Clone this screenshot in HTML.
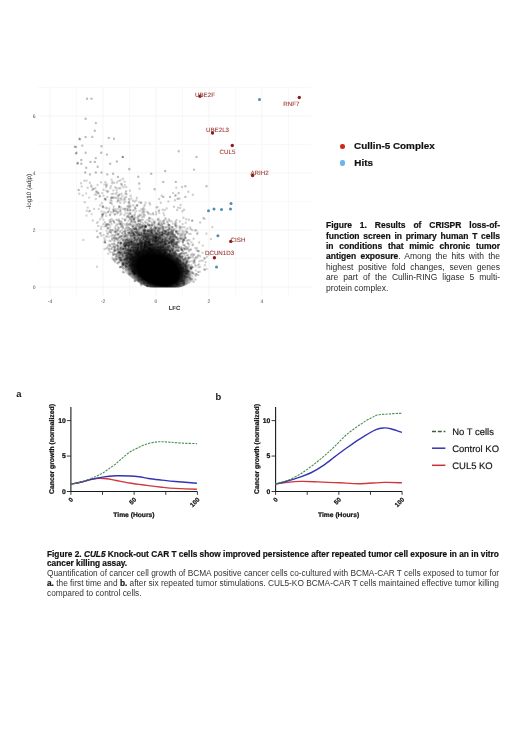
<!DOCTYPE html>
<html><head><meta charset="utf-8"><style>
html,body{margin:0;padding:0;background:#fff;}
body{width:520px;height:736px;position:relative;overflow:hidden;font-family:"Liberation Sans",sans-serif;filter:blur(0.45px);}
.abs{position:absolute;}
#cap1{left:326px;top:220.1px;width:174px;font-size:8.5px;line-height:10.4px;color:#2a2a2a;white-space:nowrap;}
.j{text-align:justify;text-align-last:justify;}
#cap1 b{color:#111;-webkit-text-stroke:0.2px #111;}
#cap2{left:47px;top:549.7px;width:456px;font-size:8.3px;line-height:9.8px;color:#333;}
#cap2 b{color:#111;-webkit-text-stroke:0.2px #111;}
.leg{font-size:9.9px;font-weight:bold;color:#111;-webkit-text-stroke:0.2px #111;}
</style></head><body>
<svg width="520" height="340" style="position:absolute;left:0;top:0" text-rendering="geometricPrecision">
<g><line x1="50.0" y1="86.5" x2="50.0" y2="296" stroke="#ececec" stroke-width="0.6"/>
<line x1="76.5" y1="86.5" x2="76.5" y2="296" stroke="#f5f5f5" stroke-width="0.6"/>
<line x1="103.0" y1="86.5" x2="103.0" y2="296" stroke="#ececec" stroke-width="0.6"/>
<line x1="129.5" y1="86.5" x2="129.5" y2="296" stroke="#f5f5f5" stroke-width="0.6"/>
<line x1="156.0" y1="86.5" x2="156.0" y2="296" stroke="#ececec" stroke-width="0.6"/>
<line x1="182.5" y1="86.5" x2="182.5" y2="296" stroke="#f5f5f5" stroke-width="0.6"/>
<line x1="209.0" y1="86.5" x2="209.0" y2="296" stroke="#ececec" stroke-width="0.6"/>
<line x1="235.5" y1="86.5" x2="235.5" y2="296" stroke="#f5f5f5" stroke-width="0.6"/>
<line x1="262.0" y1="86.5" x2="262.0" y2="296" stroke="#ececec" stroke-width="0.6"/>
<line x1="288.5" y1="86.5" x2="288.5" y2="296" stroke="#f5f5f5" stroke-width="0.6"/>
<line x1="38" y1="287.0" x2="311.5" y2="287.0" stroke="#ececec" stroke-width="0.6"/>
<line x1="38" y1="258.5" x2="311.5" y2="258.5" stroke="#f5f5f5" stroke-width="0.6"/>
<line x1="38" y1="230.0" x2="311.5" y2="230.0" stroke="#ececec" stroke-width="0.6"/>
<line x1="38" y1="201.5" x2="311.5" y2="201.5" stroke="#f5f5f5" stroke-width="0.6"/>
<line x1="38" y1="173.0" x2="311.5" y2="173.0" stroke="#ececec" stroke-width="0.6"/>
<line x1="38" y1="144.5" x2="311.5" y2="144.5" stroke="#f5f5f5" stroke-width="0.6"/>
<line x1="38" y1="116.0" x2="311.5" y2="116.0" stroke="#ececec" stroke-width="0.6"/>
<line x1="38" y1="87.5" x2="311.5" y2="87.5" stroke="#f5f5f5" stroke-width="0.6"/></g>
<defs><radialGradient id="rg1"><stop offset="0.58" stop-color="#000"/><stop offset="0.72" stop-color="#000" stop-opacity="0.75"/><stop offset="0.87" stop-color="#000" stop-opacity="0.3"/><stop offset="1" stop-color="#000" stop-opacity="0"/></radialGradient><radialGradient id="rg2"><stop offset="0" stop-color="#000" stop-opacity="0.45"/><stop offset="0.5" stop-color="#000" stop-opacity="0.25"/><stop offset="1" stop-color="#000" stop-opacity="0"/></radialGradient><filter id="bl" x="-5%" y="-5%" width="110%" height="110%"><feGaussianBlur stdDeviation="0.5"/></filter><clipPath id="cp"><polygon points="30,80 320,80 320.0,57.3 318.0,63.2 316.0,69.1 314.0,74.8 312.0,80.5 310.0,86.1 308.0,91.6 306.0,97.1 304.0,102.5 302.0,107.8 300.0,113.0 298.0,118.1 296.0,123.2 294.0,128.2 292.0,133.1 290.0,138.0 288.0,142.7 286.0,147.4 284.0,152.1 282.0,156.6 280.0,161.1 278.0,165.5 276.0,169.8 274.0,174.0 272.0,178.2 270.0,182.2 268.0,186.3 266.0,190.2 264.0,194.0 262.0,197.8 260.0,201.5 258.0,205.2 256.0,208.7 254.0,212.2 252.0,215.6 250.0,218.9 248.0,222.2 246.0,225.3 244.0,228.4 242.0,231.5 240.0,234.4 238.0,237.3 236.0,240.1 234.0,242.8 232.0,245.4 230.0,248.0 228.0,250.5 226.0,252.9 224.0,255.2 222.0,257.5 220.0,259.7 218.0,261.8 216.0,263.8 214.0,265.8 212.0,267.7 210.0,269.5 208.0,271.2 206.0,272.8 204.0,274.4 202.0,275.9 200.0,277.3 198.0,278.7 196.0,280.0 194.0,281.2 192.0,282.3 190.0,283.3 188.0,284.3 186.0,285.2 184.0,286.0 182.0,286.7 180.0,287.4 178.0,288.0 176.0,288.5 174.0,289.0 172.0,289.3 170.0,289.6 168.0,289.8 166.0,289.9 164.0,290.0 162.0,290.0 160.0,289.9 158.0,289.6 156.0,289.3 154.0,288.9 152.0,288.4 150.0,287.8 148.0,287.2 146.0,286.4 144.0,285.5 142.0,284.5 140.0,283.5 138.0,282.3 136.0,281.1 134.0,279.7 132.0,278.3 130.0,276.8 128.0,275.1 126.0,273.4 124.0,271.6 122.0,269.7 120.0,267.7 118.0,265.6 116.0,263.4 114.0,261.1 112.0,258.7 110.0,256.2 108.0,253.7 106.0,251.0 104.0,248.2 102.0,245.4 100.0,242.4 98.0,239.4 96.0,236.2 94.0,233.0 92.0,229.7 90.0,226.3 88.0,222.7 86.0,219.1 84.0,215.4 82.0,211.6 80.0,207.7 78.0,203.7 76.0,199.7 74.0,195.5 72.0,191.2 70.0,186.8 68.0,182.4 66.0,177.8 64.0,173.2 62.0,168.4 60.0,163.6 58.0,158.7 56.0,153.6 54.0,148.5 52.0,143.3 50.0,138.0 48.0,132.6 46.0,127.1 44.0,121.5 42.0,115.8 40.0,110.0 38.0,104.1 36.0,98.2 34.0,92.1 32.0,86.0 30.0,79.7"/></clipPath><clipPath id="cr"><rect x="30" y="80" width="290" height="207.6"/></clipPath></defs>
<g filter="url(#bl)" clip-path="url(#cr)"><g clip-path="url(#cp)"><ellipse cx="152" cy="248" rx="30" ry="30" fill="url(#rg2)" opacity="0.5"/><ellipse cx="158" cy="270" rx="38" ry="25" transform="rotate(20 158 270)" fill="url(#rg1)"/></g>
<g fill="none" stroke="#000" stroke-width="2.4" stroke-linecap="round">
<path d="M130.1 258.7h0M160.9 270.9h0M148.5 262.4h0M135.4 257.1h0M171.8 268.0h0M160.9 249.6h0M161.0 269.0h0M157.9 259.6h0M161.5 282.8h0M157.5 270.4h0M128.5 242.2h0M125.5 242.6h0M157.9 265.4h0M152.8 255.5h0M157.3 269.9h0M157.5 250.5h0M157.0 263.6h0M135.8 269.1h0M122.8 248.9h0M155.5 283.7h0M148.8 246.6h0M167.8 282.4h0M164.9 275.9h0M110.4 252.1h0M191.2 268.5h0M171.0 270.4h0M164.0 258.5h0M167.8 272.1h0M134.4 267.9h0M158.3 271.9h0M141.1 259.6h0M168.0 259.2h0M151.3 283.0h0M155.5 269.4h0M141.7 249.2h0M171.9 274.5h0M181.7 257.3h0M170.1 266.3h0M140.8 270.7h0M159.1 261.4h0M142.4 275.6h0M167.4 259.3h0M150.3 265.3h0M145.1 252.5h0M153.1 271.7h0M131.1 255.6h0M158.6 260.6h0M131.6 267.0h0M168.5 271.9h0M128.8 261.5h0M174.3 281.8h0M149.1 280.3h0M147.7 253.5h0M162.9 267.3h0M151.6 266.6h0M153.4 262.0h0M148.4 244.0h0M172.8 268.2h0M158.5 251.7h0M156.0 275.8h0M131.4 254.4h0M147.6 260.6h0M119.3 257.1h0M172.5 265.9h0M182.6 271.5h0M164.0 260.2h0M141.5 273.6h0M135.4 251.8h0M158.6 273.0h0M139.8 254.8h0M152.0 254.7h0M168.2 282.1h0M157.6 263.2h0M177.9 265.7h0M144.4 249.9h0M145.0 265.4h0M156.0 273.4h0M151.5 261.7h0M153.9 272.7h0M148.6 256.5h0M137.4 263.7h0M147.9 275.4h0M158.1 279.1h0M173.3 271.1h0M181.6 265.3h0M167.9 255.3h0M146.5 264.8h0M134.6 274.2h0M156.7 254.8h0M157.6 265.3h0M131.0 242.4h0M160.6 255.6h0M170.2 278.7h0M132.6 256.9h0M182.2 280.9h0M179.3 265.0h0M166.8 264.5h0M171.4 271.9h0M174.2 273.6h0M161.7 278.2h0M152.8 256.0h0M169.2 272.0h0M187.0 271.0h0M190.7 279.5h0M135.5 270.9h0M150.4 244.7h0M156.1 264.4h0M138.7 257.7h0M185.2 275.5h0M144.2 255.5h0M128.9 261.7h0M146.9 265.6h0" stroke-opacity="0.22"/>
<path d="M146.5 271.5h0M157.8 272.8h0M153.3 267.4h0M159.1 270.5h0M138.2 255.5h0M149.3 282.2h0M150.1 264.1h0M152.4 263.5h0M165.8 280.1h0M135.0 269.0h0M146.8 254.6h0M181.6 267.7h0M149.4 258.8h0M134.6 253.1h0M145.4 266.4h0M156.2 270.5h0M142.5 247.6h0M160.8 263.4h0M177.4 279.1h0M137.8 249.9h0M155.0 254.8h0M138.2 265.5h0M150.5 255.2h0M140.8 246.3h0M186.3 273.5h0M157.6 261.3h0M160.4 260.5h0M173.4 261.9h0M154.4 266.9h0M192.1 279.3h0M159.5 267.5h0M176.0 262.1h0M141.6 267.6h0M187.1 255.4h0M126.4 250.5h0M155.4 265.7h0M154.1 282.6h0M178.9 268.2h0M149.8 263.1h0M164.6 279.6h0M155.4 271.1h0M143.4 258.7h0M128.5 249.0h0M138.1 263.5h0M140.5 262.0h0M185.7 271.6h0M155.1 257.3h0M158.7 263.9h0M143.9 263.6h0M151.6 269.3h0M170.6 265.7h0M109.0 248.6h0M164.8 283.2h0M142.8 257.3h0M159.2 274.1h0M167.1 278.4h0M128.7 254.8h0M131.4 244.9h0M133.0 266.6h0M155.0 263.9h0M187.9 271.6h0M159.0 284.2h0M165.8 281.8h0M160.4 264.8h0M153.9 264.3h0M128.8 251.1h0M155.1 249.5h0M166.5 256.0h0M187.0 270.0h0M149.7 254.6h0M137.2 250.8h0M153.6 249.8h0M132.6 263.4h0M172.1 268.2h0M174.1 267.3h0M153.9 272.1h0M148.6 242.2h0M136.4 252.9h0M181.3 270.3h0M145.5 258.1h0M121.5 246.3h0M148.8 274.8h0M157.9 259.2h0M178.9 274.5h0M142.3 261.3h0M120.2 258.2h0M161.4 259.7h0M156.7 270.7h0M166.0 278.1h0M143.8 238.7h0M155.9 285.3h0M164.8 268.9h0M152.3 258.9h0M150.9 278.1h0M183.9 283.8h0M159.7 260.4h0M177.7 264.5h0M144.9 268.6h0M157.7 280.3h0M167.3 281.2h0M119.0 252.3h0M157.0 258.3h0M140.7 270.5h0M133.0 265.3h0M171.7 261.4h0M160.0 283.0h0M154.8 259.7h0M143.6 267.7h0M121.0 260.5h0M155.8 269.8h0M151.0 260.2h0M146.1 255.5h0M142.3 256.9h0M153.1 259.8h0" stroke-opacity="0.22"/>
<path d="M158.6 272.2h0M154.5 269.9h0M159.6 262.7h0M182.0 273.6h0M159.8 251.9h0M135.3 254.9h0M144.7 260.4h0M156.9 242.1h0M134.2 240.9h0M157.7 247.4h0M162.2 254.0h0M170.4 279.6h0M161.4 254.3h0M147.9 255.0h0M169.2 283.2h0M160.7 262.1h0M154.2 256.3h0M156.7 268.2h0M146.1 247.6h0M140.2 249.8h0M182.6 269.4h0M160.2 255.2h0M141.8 264.0h0M148.8 277.4h0M173.9 272.5h0M130.6 250.3h0M138.6 257.9h0M151.0 267.6h0M144.6 255.3h0M145.8 272.7h0M145.6 257.6h0M136.7 255.9h0M161.6 261.0h0M185.4 277.0h0M154.9 264.7h0M169.0 271.7h0M120.0 266.9h0M143.9 250.6h0M156.2 269.9h0M162.3 262.5h0M143.7 270.2h0M168.1 259.5h0M144.6 265.2h0M157.3 274.0h0M160.5 260.7h0M152.1 277.2h0M147.7 252.0h0M159.9 280.2h0M170.6 276.2h0M160.0 262.9h0M158.3 278.3h0M161.1 247.2h0M148.5 260.1h0M154.9 258.3h0M151.9 275.2h0M160.7 253.0h0M157.6 279.4h0M150.3 280.8h0M134.0 269.7h0M155.1 246.6h0M134.5 250.0h0M141.5 268.8h0M148.6 256.3h0M142.6 263.0h0M141.9 279.3h0M134.8 273.4h0M165.5 276.6h0M171.8 273.0h0M158.6 271.9h0M120.3 252.7h0M153.4 256.4h0M161.7 262.0h0M177.4 263.7h0M174.0 263.8h0M117.9 252.1h0M175.0 278.5h0M142.9 260.0h0M126.3 244.8h0M156.6 275.6h0M153.8 260.6h0M152.3 249.4h0M158.5 272.5h0M154.7 261.5h0M134.7 281.1h0M133.8 259.5h0M153.5 271.7h0M146.9 256.0h0M146.6 267.5h0M151.2 260.5h0M165.3 262.5h0M156.2 281.0h0M155.1 245.3h0M170.8 270.5h0M137.5 244.2h0M140.1 264.3h0M145.5 263.0h0M166.3 252.9h0M132.2 263.9h0M129.8 245.8h0M128.7 257.1h0M168.8 260.9h0M166.2 264.6h0M146.6 249.0h0M181.7 275.8h0M160.8 266.7h0M186.3 273.7h0M183.7 280.3h0M191.8 267.8h0M130.4 260.1h0M165.2 273.4h0M147.1 245.7h0M154.9 269.8h0M173.7 272.5h0M143.2 259.0h0" stroke-opacity="0.22"/>
<path d="M160.2 266.2h0M149.2 277.5h0M137.8 266.7h0M185.0 259.4h0M155.6 271.3h0M173.5 274.6h0M141.4 276.1h0M151.9 282.6h0M161.3 264.6h0M181.6 274.3h0M159.0 248.2h0M150.2 269.0h0M144.3 268.7h0M148.6 279.0h0M147.5 252.6h0M164.7 260.4h0M140.6 261.4h0M151.5 267.2h0M145.4 271.5h0M165.1 266.3h0M153.7 275.0h0M155.2 249.9h0M171.3 274.6h0M157.1 269.1h0M153.4 266.7h0M158.1 276.0h0M160.9 258.6h0M159.6 266.8h0M163.9 263.1h0M172.6 248.4h0M150.1 272.9h0M164.3 253.1h0M139.4 280.3h0M154.3 260.8h0M195.6 275.8h0M157.6 277.8h0M155.7 279.9h0M129.8 253.4h0M134.3 272.1h0M178.0 263.1h0M132.5 238.8h0M152.7 253.0h0M143.7 265.7h0M149.2 245.5h0M148.3 268.7h0M134.1 251.6h0M183.5 267.0h0M140.2 262.1h0M168.9 270.3h0M155.0 259.6h0M150.4 269.1h0M161.9 246.0h0M150.9 253.6h0M143.2 278.8h0M147.6 279.8h0M124.5 252.1h0M167.4 277.3h0M158.7 281.6h0M170.6 252.0h0M133.8 258.6h0M158.5 265.3h0M174.2 277.1h0M146.2 271.7h0M158.8 265.1h0M144.8 274.1h0M145.8 244.3h0M153.3 276.3h0M159.9 270.4h0M148.0 265.3h0M157.3 266.5h0M154.0 266.3h0M158.1 268.5h0M123.1 263.3h0M159.8 269.7h0M151.5 270.5h0M152.0 265.1h0M151.0 248.6h0M134.8 267.1h0M147.8 259.2h0M161.0 269.0h0M155.2 271.4h0M169.3 260.7h0M151.7 273.6h0M164.8 263.9h0M184.7 264.6h0M138.4 269.2h0M162.6 258.1h0M171.7 278.3h0M186.6 262.6h0M149.2 266.1h0M143.1 245.7h0M176.6 284.6h0M165.9 263.2h0M169.4 243.2h0M162.2 267.4h0M153.1 268.5h0M173.2 264.2h0M168.6 271.1h0M176.7 257.5h0M184.9 265.9h0M159.6 269.7h0M138.1 269.4h0M181.7 253.1h0M176.7 258.6h0M142.9 259.7h0" stroke-opacity="0.22"/>
<path d="M139.2 251.0h0M127.5 250.7h0M157.6 266.7h0M139.5 270.6h0M161.9 255.7h0M164.5 260.3h0M174.8 263.0h0M139.5 276.0h0M157.0 259.4h0M180.0 268.8h0M167.4 258.1h0M142.4 255.4h0M179.4 266.7h0M163.7 260.6h0M152.1 254.8h0M162.2 275.0h0M174.9 287.0h0M156.8 270.7h0M152.8 255.5h0M170.9 281.2h0M141.3 248.6h0M176.1 253.2h0M124.5 263.1h0M124.2 265.5h0M128.7 262.2h0M139.9 275.0h0M150.8 276.3h0M159.2 279.6h0M143.7 272.8h0M146.9 276.6h0M150.5 257.5h0M142.2 255.2h0M130.2 266.0h0M137.2 269.4h0M142.0 263.5h0M144.1 274.2h0M150.5 270.1h0M145.5 264.1h0M173.9 270.0h0M154.9 267.6h0M174.2 263.4h0M137.8 243.8h0M151.6 250.5h0M181.1 280.9h0M151.3 258.0h0M157.9 278.1h0M173.9 276.3h0M160.8 275.5h0M189.4 277.5h0M170.0 282.3h0M156.3 279.7h0M180.4 267.8h0M141.3 273.2h0M139.7 265.8h0M155.7 257.8h0M198.2 275.1h0M176.3 282.9h0M144.9 272.5h0M160.0 279.4h0M144.5 269.3h0M143.7 282.9h0M162.5 256.1h0M164.9 284.1h0M156.5 268.1h0M150.0 271.5h0M143.6 249.6h0M154.4 280.1h0M148.2 259.2h0M144.3 256.3h0M159.1 262.1h0M138.7 263.6h0M142.3 250.8h0M144.1 258.1h0M176.7 270.5h0M153.6 273.0h0M160.7 276.3h0M175.7 277.5h0M178.4 277.8h0M140.4 256.4h0M163.2 272.7h0M169.6 254.2h0M131.4 254.6h0M149.7 274.1h0M156.5 254.9h0M151.0 268.4h0M174.1 260.2h0M170.1 268.6h0M169.2 280.8h0M164.3 275.7h0M143.8 255.9h0M145.1 266.5h0M171.4 256.3h0M165.8 283.8h0M144.6 273.9h0M144.7 264.0h0M186.6 266.2h0M139.3 260.4h0M146.6 256.1h0M170.5 264.6h0M162.2 257.3h0M162.3 253.5h0M145.4 270.4h0M177.1 271.9h0M156.6 260.4h0M186.2 267.3h0M170.9 269.5h0M182.9 268.6h0M184.6 265.5h0M172.2 268.1h0M114.7 250.1h0M143.9 267.3h0M130.6 259.7h0M145.0 258.1h0M154.7 278.0h0M135.9 244.8h0M177.4 276.3h0M158.5 277.9h0M141.6 258.9h0M181.7 277.5h0M152.4 281.6h0M138.8 257.2h0M177.0 282.4h0M133.5 244.9h0M165.2 263.4h0M137.2 249.3h0M149.0 279.5h0M140.3 262.6h0M158.5 246.5h0M162.7 250.5h0" stroke-opacity="0.22"/>
<path d="M150.9 270.4h0M158.1 247.8h0M168.6 284.8h0M149.3 271.3h0M159.2 252.9h0M165.7 280.8h0M157.6 268.7h0M164.7 269.3h0M149.5 249.9h0M171.5 274.1h0M138.9 252.0h0M136.0 267.1h0M169.3 280.7h0M186.9 273.5h0M163.0 259.7h0M178.9 272.8h0M179.0 265.1h0M165.6 274.2h0M176.9 284.5h0M190.3 268.4h0M165.7 276.1h0M162.9 270.6h0M161.8 281.6h0M164.3 282.2h0M160.0 273.2h0M162.1 254.3h0M150.9 273.9h0M149.4 268.9h0M183.4 284.5h0M151.2 279.3h0M143.4 251.4h0M147.8 256.9h0M150.4 249.1h0M154.9 262.1h0M148.8 283.5h0M154.9 266.4h0M158.9 259.6h0M151.1 270.6h0M161.5 269.8h0M160.7 258.4h0M180.8 264.9h0M134.9 280.9h0M138.2 264.9h0M168.1 272.4h0M151.4 265.6h0M161.4 260.7h0M152.3 273.9h0M151.8 278.5h0M182.5 281.4h0M138.9 276.1h0M191.0 267.5h0M140.0 266.2h0M130.6 255.1h0M170.7 271.7h0M177.6 259.2h0M186.8 276.6h0M146.9 261.4h0M170.3 266.4h0M126.5 267.1h0M165.3 266.8h0M142.9 246.6h0M127.3 245.6h0M160.8 266.9h0M164.3 273.5h0M174.5 268.5h0M119.9 254.9h0M177.9 262.4h0M146.6 270.0h0M171.9 277.1h0M171.1 273.4h0M172.6 270.4h0M174.1 267.2h0M150.6 260.7h0M171.4 279.3h0M147.0 285.6h0M147.7 275.0h0M145.0 252.9h0M165.3 273.0h0M165.0 269.2h0M162.4 257.5h0M148.8 267.7h0M130.8 252.6h0M148.5 244.1h0M123.4 259.9h0M168.2 285.5h0M160.7 259.4h0M154.6 273.4h0M149.8 248.0h0M168.4 274.9h0M178.5 284.8h0M155.3 268.0h0M164.4 263.0h0M173.9 266.8h0M151.3 249.4h0M151.5 260.3h0M145.6 235.0h0M173.3 278.0h0M133.3 266.2h0M151.4 276.4h0M148.3 262.7h0M140.9 271.7h0M134.6 261.6h0" stroke-opacity="0.22"/>
<path d="M134.1 273.4h0M157.2 274.2h0M142.9 270.9h0M160.1 278.7h0M133.2 270.1h0M150.4 264.4h0M144.5 256.8h0M173.2 249.1h0M138.2 259.4h0M147.9 276.3h0M148.8 270.4h0M165.6 267.3h0M183.9 276.0h0M174.8 261.4h0M172.0 263.3h0M144.8 257.9h0M165.4 270.5h0M159.3 274.4h0M170.5 275.7h0M155.0 271.3h0M163.0 258.0h0M170.5 262.8h0M156.6 262.2h0M158.9 260.0h0M145.6 265.3h0M133.5 263.7h0M180.9 267.9h0M154.2 253.0h0M159.5 252.3h0M142.5 265.9h0M140.8 256.3h0M163.5 281.6h0M138.6 265.5h0M133.6 265.2h0M171.1 273.6h0M139.3 259.8h0M181.6 265.2h0M185.2 268.7h0M150.4 277.1h0M138.9 261.8h0M164.4 255.3h0M156.6 255.0h0M168.5 265.5h0M170.2 253.8h0M180.9 253.7h0M176.8 275.9h0M130.7 250.6h0M147.7 263.1h0M159.5 277.7h0M150.7 285.4h0M193.7 281.7h0M153.9 266.7h0M168.0 277.0h0M158.1 271.4h0M154.1 253.5h0M136.0 250.2h0M145.1 247.3h0M138.2 268.0h0M152.7 260.1h0M159.3 263.3h0M162.5 262.0h0M177.3 279.8h0M150.6 267.4h0M159.7 281.6h0M176.9 271.1h0M154.2 274.4h0M144.8 277.1h0M168.8 263.1h0M176.1 272.5h0M152.1 270.0h0M160.5 274.4h0M136.2 270.1h0M128.9 242.1h0M176.2 268.4h0M163.6 272.2h0M181.0 279.1h0M116.6 254.2h0M171.0 260.8h0M148.7 251.5h0M177.5 282.4h0M160.1 275.7h0M143.3 249.3h0M167.3 259.7h0M165.7 270.7h0M147.4 268.5h0M170.1 265.6h0M171.3 266.4h0M157.7 267.2h0M113.5 247.1h0M138.1 248.0h0M172.8 261.7h0M171.7 278.0h0M151.1 254.7h0M149.8 271.0h0M164.1 262.4h0M173.3 267.6h0M150.2 282.4h0M143.1 267.2h0M163.7 268.4h0M178.2 264.0h0M154.5 266.0h0M186.4 267.8h0M161.4 260.0h0M158.2 251.0h0" stroke-opacity="0.22"/>
<path d="M151.4 279.7h0M133.3 260.3h0M134.3 261.4h0M150.6 259.9h0M138.2 256.6h0M171.9 243.8h0M171.7 269.6h0M161.9 256.3h0M166.1 280.9h0M183.7 281.4h0M154.6 274.1h0M169.2 277.6h0M147.1 258.0h0M168.4 266.6h0M165.2 275.0h0M159.9 279.2h0M172.5 253.7h0M173.9 267.8h0M184.7 271.4h0M144.7 244.9h0M157.2 269.2h0M194.2 261.0h0M130.5 255.3h0M164.2 263.8h0M143.5 258.5h0M184.5 278.0h0M159.6 277.3h0M144.7 261.2h0M176.2 269.2h0M163.7 252.6h0M156.0 274.0h0M172.9 279.0h0M142.6 252.6h0M146.4 243.4h0M138.0 251.4h0M130.9 258.2h0M145.6 255.8h0M135.6 265.0h0M156.6 276.7h0M166.6 261.2h0M171.1 258.4h0M171.0 258.3h0M167.6 286.7h0M148.3 261.9h0M155.1 267.0h0M151.6 272.3h0M151.9 261.6h0M183.1 269.4h0M204.8 269.8h0M135.5 243.2h0M172.7 265.0h0M183.9 264.5h0M142.0 268.4h0M192.2 272.4h0M172.0 287.1h0M164.6 269.5h0M166.4 264.0h0M123.8 264.7h0M159.5 276.4h0M152.4 266.7h0M166.2 267.5h0M184.0 283.3h0M164.8 271.9h0M153.2 266.6h0M144.9 272.7h0M177.5 280.4h0M158.6 271.8h0M142.8 279.9h0M156.0 270.6h0M158.1 244.2h0M172.6 258.3h0M142.8 259.6h0M140.9 284.0h0M137.6 232.4h0M173.4 253.3h0M134.7 253.9h0M170.8 279.9h0M157.6 264.2h0M116.7 259.4h0M153.8 267.5h0M154.2 252.4h0M158.0 270.5h0M155.7 267.2h0M156.5 272.3h0M152.3 250.9h0M153.6 282.5h0M130.9 248.4h0M176.2 270.4h0M151.7 261.5h0M138.3 280.1h0M139.6 243.9h0M177.2 272.3h0M150.5 274.4h0M149.8 252.5h0M134.1 247.1h0M145.0 263.8h0M126.5 255.1h0M156.5 269.1h0M161.0 255.0h0" stroke-opacity="0.22"/>
<path d="M134.0 250.4h0M167.6 281.0h0M177.4 277.9h0M145.1 260.1h0M130.8 250.7h0M171.7 276.6h0M157.7 261.9h0M155.9 266.2h0M179.7 253.9h0M137.0 261.3h0M167.5 246.8h0M140.7 260.2h0M135.6 253.8h0M164.2 259.1h0M161.0 261.2h0M140.7 273.0h0M119.4 261.4h0M148.7 266.8h0M128.7 249.5h0M180.6 263.9h0M167.4 286.0h0M155.9 262.7h0M141.5 268.2h0M157.1 269.6h0M155.4 271.4h0M160.4 261.0h0M152.1 272.1h0M178.1 275.1h0M168.8 268.3h0M144.4 278.5h0M158.8 264.3h0M152.6 276.9h0M123.0 264.5h0M156.5 257.5h0M158.8 268.5h0M122.9 271.7h0M154.4 273.8h0M133.3 259.5h0M146.6 234.2h0M152.3 266.9h0M153.5 261.4h0M114.0 259.9h0M158.9 252.1h0M171.9 272.4h0M165.8 275.4h0M164.1 254.0h0M153.2 269.7h0M180.1 268.2h0M168.6 267.9h0M161.2 266.7h0M146.0 259.8h0M133.8 272.2h0M174.9 264.5h0M127.0 244.1h0M163.5 275.3h0M145.7 254.8h0M153.9 253.5h0M151.5 255.1h0M169.5 270.8h0M172.1 271.7h0M139.3 253.9h0M156.9 250.8h0M154.8 271.0h0M170.7 275.4h0M155.0 269.3h0M167.2 269.2h0M154.6 263.1h0M177.1 258.2h0M120.5 259.9h0M175.7 276.2h0M177.7 255.8h0M159.9 280.0h0M142.5 260.3h0M168.7 267.9h0M149.6 249.9h0M176.1 250.7h0M160.5 265.2h0M140.1 272.7h0M138.2 266.3h0M187.4 276.9h0M152.9 266.8h0M138.3 248.9h0M139.8 267.2h0M183.3 266.8h0M145.2 226.2h0M113.4 254.9h0M162.6 268.2h0M146.5 252.5h0M177.1 263.3h0M167.3 270.9h0M146.4 245.4h0M149.8 253.5h0M162.2 262.0h0M157.2 273.6h0M138.6 270.5h0M138.1 268.4h0M149.3 269.5h0M117.5 255.9h0M156.6 256.7h0M158.3 261.9h0M145.5 277.5h0M178.3 272.7h0M140.3 261.6h0M174.5 268.7h0M185.4 272.2h0M166.5 268.4h0M131.1 258.1h0M150.5 254.4h0M147.4 274.7h0M117.6 257.8h0M123.1 244.8h0M180.6 261.7h0M189.0 275.4h0M139.1 262.0h0" stroke-opacity="0.22"/>
<path d="M138.6 267.1h0M173.0 267.7h0M187.5 270.2h0M142.2 249.3h0M168.7 271.4h0M145.8 238.0h0M156.2 265.1h0M171.2 282.5h0M187.4 273.7h0M138.5 265.7h0M154.3 238.1h0M157.9 264.7h0M158.9 282.0h0M137.6 263.0h0M152.4 281.8h0M155.0 257.5h0M135.4 260.1h0M145.1 247.0h0M179.4 271.2h0M165.0 270.5h0M141.4 285.0h0M137.1 260.9h0M131.2 266.3h0M162.8 267.6h0M175.3 276.1h0M164.0 272.5h0M152.3 263.3h0M176.7 274.3h0M159.9 273.0h0M168.5 266.7h0M133.9 251.2h0M169.1 262.4h0M164.3 271.6h0M148.5 255.1h0M165.7 271.1h0M154.4 273.8h0M133.7 257.4h0M120.2 224.1h0M153.8 259.5h0M164.3 252.1h0M148.6 259.1h0M174.8 277.3h0M155.3 263.1h0M176.1 280.0h0M170.8 256.0h0M150.9 259.5h0M159.3 274.5h0M136.3 250.5h0M162.3 253.5h0M165.6 252.0h0M174.1 264.5h0M163.8 248.5h0M144.7 263.0h0M198.2 271.9h0M158.9 267.1h0M159.6 260.3h0M153.5 261.3h0M171.7 263.4h0M148.7 270.9h0M156.8 262.0h0M159.6 260.2h0M163.8 273.0h0M129.9 251.6h0M174.3 262.5h0M171.8 234.3h0M121.6 266.5h0M158.3 255.6h0M159.3 278.3h0M151.9 269.9h0M144.0 251.2h0M152.5 269.7h0M182.1 250.0h0M170.7 273.1h0M145.7 254.8h0M171.4 286.0h0M171.8 256.5h0M158.7 269.1h0M164.4 252.9h0M172.4 276.8h0M139.0 276.0h0M147.5 262.2h0M171.6 277.8h0M139.1 273.8h0M135.5 265.9h0M160.2 276.3h0M144.0 264.2h0M183.0 263.2h0M157.0 284.9h0M155.8 274.2h0M145.3 268.0h0M161.1 261.8h0M161.6 270.5h0M151.4 265.5h0M149.1 270.5h0M169.1 255.4h0M195.4 279.4h0M170.9 275.0h0M142.8 275.4h0M172.8 263.3h0M155.6 279.5h0M153.7 284.2h0M178.0 261.1h0M185.8 266.4h0M131.7 268.0h0M174.1 252.5h0M133.2 261.7h0M134.8 265.0h0M148.8 256.0h0M155.7 276.4h0M156.5 264.0h0M150.7 268.3h0M137.2 256.9h0M138.8 250.5h0M161.7 272.8h0M166.4 276.9h0M146.8 262.5h0M164.0 268.1h0" stroke-opacity="0.22"/>
<path d="M163.8 256.6h0M154.5 255.7h0M129.1 245.1h0M169.5 256.8h0M158.3 262.3h0M152.8 269.9h0M125.7 246.2h0M166.6 259.2h0M130.7 257.3h0M186.4 272.6h0M155.6 264.1h0M158.5 270.0h0M133.6 269.5h0M176.0 272.3h0M128.5 257.1h0M143.5 274.2h0M161.7 262.3h0M169.7 255.5h0M155.1 277.1h0M176.9 268.0h0M179.4 266.1h0M124.8 262.7h0M153.2 264.9h0M134.2 273.8h0M149.8 262.4h0M150.2 251.8h0M180.2 270.6h0M153.8 286.5h0M166.0 259.1h0M149.5 274.8h0M129.9 253.5h0M119.9 236.7h0M123.8 272.6h0M142.4 244.3h0M139.8 277.1h0M176.7 284.6h0M164.2 271.0h0M204.6 258.5h0M162.4 273.5h0M169.7 265.7h0M140.9 265.9h0M139.7 265.3h0M162.3 262.1h0M169.0 265.3h0M161.6 257.4h0M141.6 261.7h0M172.7 232.3h0M142.8 256.8h0M152.2 271.5h0M151.4 247.5h0M145.7 272.1h0M160.4 263.9h0M158.1 274.2h0M138.4 266.0h0M163.5 264.8h0M132.9 262.1h0M169.2 248.9h0M150.5 265.0h0M169.7 282.1h0M170.0 287.3h0M153.4 271.1h0M150.4 268.6h0M185.3 257.5h0M166.0 264.9h0M190.1 278.5h0M163.8 264.8h0M154.0 259.0h0M156.1 271.7h0M151.8 251.7h0M132.2 257.5h0M163.3 266.9h0M146.0 274.9h0M150.9 274.3h0M169.0 278.3h0M141.7 268.1h0M155.2 263.1h0M156.6 264.7h0M192.9 272.9h0M138.4 243.9h0M153.1 261.6h0M188.5 258.1h0M143.4 258.0h0M165.9 260.0h0M138.9 275.9h0M163.3 271.3h0M148.7 261.2h0M188.8 271.1h0M186.4 263.8h0M162.0 269.5h0M157.8 259.3h0M165.1 271.5h0M138.5 253.3h0M130.5 265.5h0M176.1 254.9h0M156.1 260.0h0M184.0 283.1h0M177.1 271.7h0M197.3 257.5h0M196.0 274.2h0M139.2 272.2h0M165.5 282.9h0M144.2 278.2h0M154.5 256.4h0M159.1 272.9h0M159.9 275.0h0M150.4 268.3h0M156.3 254.7h0" stroke-opacity="0.22"/>
<path d="M153.3 251.2h0M155.9 287.0h0M167.8 272.9h0M160.0 256.1h0M142.6 278.8h0M148.7 278.1h0M159.3 264.4h0M167.4 270.1h0M172.4 269.1h0M158.1 264.5h0M141.6 276.7h0M174.9 265.6h0M154.8 261.6h0M162.1 275.9h0M179.9 265.5h0M170.2 278.3h0M158.0 269.9h0M129.0 232.9h0M148.5 275.3h0M154.9 257.9h0M158.1 272.4h0M151.4 254.5h0M163.4 246.7h0M164.7 268.2h0M142.9 272.8h0M160.4 272.0h0M126.2 248.9h0M164.8 259.4h0M147.4 269.0h0M129.1 252.2h0M141.9 255.9h0M140.0 260.4h0M144.5 267.3h0M150.2 280.8h0M142.2 258.0h0M156.8 266.5h0M165.3 251.0h0M163.1 268.4h0M125.1 245.6h0M159.9 270.6h0M161.7 264.6h0M164.0 268.1h0M167.4 266.1h0M154.4 262.2h0M146.9 251.4h0M150.2 263.4h0M160.1 253.8h0M169.2 273.8h0M178.0 268.7h0M153.3 256.1h0M160.0 267.5h0M133.2 232.9h0M132.0 255.8h0M182.4 275.4h0M156.3 268.4h0M154.4 253.4h0M142.3 271.8h0M158.5 271.5h0M167.4 272.6h0M141.2 270.7h0M156.2 280.7h0M157.2 282.9h0M163.2 268.4h0M182.8 266.7h0M163.3 261.9h0M160.4 271.2h0M163.9 268.0h0M155.8 264.3h0M145.9 264.9h0M176.8 277.6h0M167.5 274.0h0M175.3 267.1h0M144.2 251.7h0M162.9 282.4h0M154.7 267.7h0M155.1 261.6h0M139.8 256.9h0M176.5 280.9h0M145.0 270.8h0M157.5 260.1h0M140.6 251.9h0M175.2 282.1h0M153.8 273.6h0M164.2 257.2h0M150.0 247.9h0M152.6 270.7h0M134.5 264.0h0M136.1 247.4h0M166.2 260.3h0M147.5 286.4h0M129.6 274.3h0M132.3 247.2h0M138.7 267.9h0M157.4 260.3h0M132.6 263.8h0M152.4 265.3h0M164.5 279.4h0M146.6 266.4h0M139.2 257.7h0M165.4 287.0h0M135.8 252.1h0M145.6 258.4h0M180.0 256.1h0M118.9 228.3h0M162.7 268.1h0M154.1 279.0h0M147.6 248.9h0M172.5 282.5h0" stroke-opacity="0.22"/>
<path d="M143.1 225.8h0M123.4 248.2h0M161.7 254.2h0M148.8 272.6h0M173.7 270.9h0M158.0 268.3h0M147.4 259.4h0M141.0 262.4h0M148.2 272.8h0M115.0 247.7h0M123.6 245.9h0M164.9 243.8h0M134.7 265.5h0M134.3 218.6h0M147.4 268.0h0M147.3 261.6h0M168.4 233.2h0M142.6 265.3h0M151.7 248.1h0M155.0 270.7h0M165.6 273.2h0M162.0 251.0h0M138.6 268.8h0M133.4 269.7h0M153.3 273.0h0M120.6 249.1h0M150.3 218.2h0M134.0 259.6h0M142.9 261.7h0M151.0 261.1h0M177.8 245.6h0M138.6 238.1h0M153.6 273.3h0M141.3 264.7h0M129.2 234.8h0M129.7 252.2h0M165.0 257.9h0M174.0 270.6h0M145.5 265.4h0M159.4 266.6h0M194.4 254.5h0M173.5 267.9h0M178.3 268.2h0M166.2 272.0h0M159.6 265.9h0M167.5 271.0h0M165.2 263.3h0M120.3 214.7h0M148.9 264.9h0M151.0 272.4h0M151.2 265.7h0M124.8 208.7h0M130.8 269.6h0M153.6 272.3h0M170.5 268.4h0M151.7 264.7h0M141.3 221.9h0M128.1 253.4h0M161.6 259.4h0M158.0 249.7h0M170.4 270.7h0M136.4 250.5h0M144.6 263.2h0M141.5 270.0h0M184.1 264.2h0M130.2 264.6h0M153.2 267.0h0M178.5 273.7h0M143.2 265.2h0M141.3 269.0h0M144.3 206.3h0M150.5 268.7h0M194.4 259.9h0M167.9 271.8h0M115.0 254.1h0M163.0 271.6h0M138.2 250.8h0M136.5 261.6h0M147.2 271.9h0M156.4 272.9h0M159.8 243.7h0M180.1 265.0h0M117.0 213.6h0M160.0 271.3h0M163.8 261.7h0M109.2 224.6h0M156.5 265.8h0M167.7 272.0h0M152.9 263.8h0M172.0 242.3h0M147.4 264.4h0M145.4 260.4h0M134.2 273.5h0M127.4 244.9h0M140.0 256.3h0M152.0 273.0h0M134.6 228.7h0M115.7 197.9h0M139.4 267.2h0M166.4 273.1h0M186.1 247.3h0M118.0 235.1h0M177.4 262.5h0M158.7 271.8h0M139.5 239.3h0M139.2 261.6h0M167.2 258.0h0M144.0 230.1h0M166.0 263.2h0M171.6 270.3h0M127.7 264.7h0M135.5 223.0h0M154.9 270.2h0M157.3 240.9h0M156.9 272.9h0M121.9 185.6h0M141.1 272.9h0M174.7 263.0h0M161.7 241.7h0M171.0 273.7h0M160.3 268.7h0M165.1 260.7h0M174.0 241.6h0M136.9 255.0h0M155.9 270.3h0M176.5 271.2h0M144.5 260.9h0M126.0 266.3h0M165.9 258.9h0M130.5 206.5h0M141.5 273.9h0M153.3 273.2h0M160.0 265.4h0M154.3 272.9h0M158.6 250.5h0M137.7 269.2h0M138.7 273.1h0M127.1 253.3h0M174.3 264.9h0M155.2 262.9h0M127.9 229.9h0M155.2 273.8h0M166.8 271.7h0M177.9 271.1h0M165.2 273.5h0M123.2 268.6h0M126.0 233.3h0M139.7 231.7h0M159.9 248.0h0M166.9 258.7h0M149.3 249.2h0M164.8 264.3h0M146.8 239.6h0M135.5 272.5h0M164.2 263.4h0M166.4 252.0h0M108.2 253.7h0M136.1 260.7h0M150.6 268.7h0M152.2 256.2h0M158.2 254.2h0M138.0 273.9h0M173.2 260.8h0M156.7 237.0h0M154.8 259.8h0M126.9 263.7h0M157.1 263.5h0M147.3 255.0h0M143.2 264.4h0M148.7 272.2h0M128.9 258.0h0M158.9 265.3h0M141.5 219.4h0M158.2 271.7h0M172.8 260.5h0M141.9 216.9h0M148.7 268.7h0M169.0 242.9h0M150.0 267.0h0M152.9 273.7h0M159.6 273.2h0M135.2 273.1h0M169.2 273.4h0M158.6 263.4h0M86.8 210.8h0M172.9 269.5h0M154.0 236.3h0M162.3 233.7h0M168.1 249.9h0M149.8 261.9h0M206.6 268.9h0M136.9 258.5h0M100.9 228.9h0M148.9 259.8h0M162.1 224.6h0M159.6 274.0h0M120.4 236.6h0M114.5 243.9h0M120.9 236.6h0M179.1 256.5h0M178.2 272.6h0M141.1 247.6h0M177.5 259.9h0M144.7 266.0h0M167.3 271.7h0M154.6 260.3h0M146.1 270.7h0M115.6 235.8h0M182.9 271.4h0M193.3 267.1h0M155.1 271.5h0M173.0 236.5h0M148.2 271.6h0M162.0 267.6h0M172.9 269.3h0M105.1 199.4h0M156.1 228.3h0M148.6 269.7h0M154.1 271.1h0M164.2 272.8h0M158.1 268.4h0M126.0 264.4h0M175.9 273.9h0M161.3 270.2h0M146.6 255.4h0M121.5 258.8h0M179.0 272.5h0M158.1 247.0h0M105.4 242.6h0M164.1 270.0h0M141.7 269.4h0M142.0 266.5h0M150.8 273.9h0M147.4 271.0h0M160.8 222.8h0M153.4 238.5h0M146.5 250.7h0M170.8 270.0h0M153.2 270.1h0M178.5 269.9h0M149.3 273.9h0M140.7 272.9h0M135.2 245.3h0M180.6 271.6h0M160.6 251.5h0M138.2 221.0h0M167.5 244.6h0M156.5 259.3h0M161.7 273.7h0M160.4 261.7h0M124.5 235.9h0M164.6 244.3h0M171.1 267.1h0M162.0 260.4h0M166.1 272.2h0M163.1 265.2h0M183.4 259.5h0M132.6 263.8h0M165.3 269.9h0M138.2 270.2h0M148.9 248.1h0M153.8 251.5h0M141.5 247.5h0M159.8 273.1h0M159.8 243.4h0M147.2 261.0h0M185.8 263.2h0M180.5 258.2h0M170.0 228.5h0M171.6 231.4h0M197.8 264.9h0M130.9 238.3h0M124.9 255.7h0M151.5 255.2h0M140.7 271.3h0M170.8 261.7h0M150.9 242.2h0M176.7 272.0h0M162.9 245.9h0M180.1 261.3h0M156.3 267.7h0M163.0 258.1h0M170.9 229.6h0M160.7 245.4h0M182.7 259.9h0M136.4 269.5h0M114.3 251.6h0M145.3 257.0h0M149.4 262.2h0M124.6 181.7h0M147.3 273.6h0M155.4 272.2h0M155.5 233.4h0M104.2 212.3h0M159.2 264.5h0M147.1 272.6h0M162.7 263.2h0M150.5 263.6h0M132.1 269.5h0M145.5 226.8h0M154.1 261.7h0M160.0 273.9h0M188.7 246.6h0M144.3 256.2h0M155.6 263.1h0M142.4 264.3h0M165.7 270.5h0M166.0 246.9h0M168.2 260.9h0M134.3 217.4h0M126.1 248.3h0M177.1 262.3h0M169.9 271.3h0M137.1 224.3h0M130.0 190.8h0M159.8 251.8h0M160.0 260.5h0M125.0 253.3h0M155.2 269.6h0M190.6 269.0h0" stroke-opacity="0.17"/>
<path d="M92.8 220.5h0M163.1 258.0h0M120.9 258.4h0M164.0 250.4h0M125.7 246.9h0M131.6 266.3h0M144.4 263.5h0M156.7 257.2h0M153.3 269.1h0M165.9 266.5h0M157.6 267.8h0M158.1 262.6h0M153.1 262.4h0M142.2 244.6h0M174.2 257.9h0M142.0 263.9h0M143.1 231.0h0M146.6 230.5h0M165.8 271.5h0M176.7 243.5h0M139.5 268.2h0M179.5 273.4h0M141.7 226.4h0M130.3 250.5h0M169.1 271.4h0M159.7 253.7h0M134.1 219.3h0M138.8 254.3h0M151.5 270.8h0M149.1 249.8h0M157.5 265.4h0M126.2 263.6h0M150.0 274.0h0M132.2 215.6h0M138.2 273.9h0M168.3 264.1h0M156.7 260.3h0M160.5 256.5h0M168.6 263.3h0M160.0 269.7h0M177.6 272.3h0M178.5 262.5h0M101.3 235.8h0M144.3 266.2h0M163.6 268.5h0M167.5 267.4h0M149.4 220.8h0M170.1 269.9h0M136.6 260.1h0M132.7 246.3h0M153.1 247.5h0M163.2 269.9h0M166.9 268.6h0M156.9 241.2h0M147.7 270.5h0M136.0 259.5h0M160.0 267.7h0M117.4 231.2h0M147.1 251.6h0M139.4 252.6h0M180.8 260.7h0M138.1 262.4h0M164.4 272.2h0M153.0 267.6h0M140.8 260.0h0M113.1 212.3h0M127.0 261.4h0M142.3 260.6h0M141.1 260.8h0M155.5 270.6h0M164.9 269.5h0M161.1 268.9h0M177.3 260.0h0M156.1 257.7h0M159.6 254.4h0M164.4 245.3h0M123.9 202.8h0M138.7 270.6h0M159.8 271.5h0M148.7 267.5h0M144.4 267.9h0M142.9 252.7h0M144.4 272.4h0M165.2 271.5h0M164.7 271.1h0M175.3 273.7h0M123.0 264.4h0M187.9 271.5h0M175.2 255.2h0M144.4 270.9h0M151.2 249.7h0M145.3 267.9h0M119.4 258.0h0M165.1 253.3h0M145.1 273.5h0M156.7 264.5h0M149.2 249.9h0M147.8 266.9h0M164.2 230.7h0M146.9 266.6h0M153.4 235.2h0M175.4 247.3h0M114.6 245.6h0M176.9 269.6h0M171.6 271.1h0M171.7 267.7h0M140.6 259.5h0M116.1 229.2h0M138.3 269.1h0M122.2 255.2h0M138.2 223.6h0M151.6 261.5h0M145.0 265.7h0M194.7 262.7h0M157.8 272.7h0M136.9 254.8h0M141.0 259.3h0M151.4 263.8h0M155.9 273.6h0M169.7 263.9h0M145.2 256.4h0M192.1 266.7h0M175.5 270.2h0M165.3 265.2h0M185.7 222.8h0M146.3 267.8h0M153.9 270.4h0M158.4 263.5h0M138.6 258.6h0M146.3 268.9h0M147.0 262.3h0M155.8 249.3h0M170.2 260.3h0M166.1 263.5h0M129.7 240.4h0M139.3 220.9h0M158.7 253.8h0M179.1 267.2h0M143.2 271.0h0M120.2 259.0h0M131.1 254.7h0M142.6 246.1h0M127.2 252.8h0M145.1 256.7h0M146.6 254.3h0M171.8 270.6h0M170.2 247.4h0M130.9 261.6h0M192.5 260.9h0M168.0 221.8h0M131.4 255.7h0M148.9 266.3h0M172.2 273.9h0M166.6 258.4h0M128.6 263.3h0M167.2 270.6h0M143.0 268.2h0M173.6 258.7h0M156.0 273.2h0M148.9 269.3h0M157.7 267.0h0M125.7 264.4h0M141.7 262.2h0M142.0 225.1h0M170.9 272.0h0M160.7 268.3h0M135.7 260.4h0M155.8 272.5h0M146.0 272.7h0M176.4 259.3h0M135.4 268.1h0M137.2 246.1h0M173.1 268.9h0M140.7 253.1h0M141.3 241.0h0M161.2 271.3h0M156.6 254.6h0M136.6 255.7h0M139.1 244.3h0M134.8 255.3h0M157.9 253.5h0M135.2 263.1h0M178.7 273.0h0M165.3 250.0h0M196.1 266.2h0M162.7 267.9h0M148.0 256.7h0M150.8 264.9h0M153.7 266.9h0M119.0 194.8h0M175.3 253.6h0M172.8 256.3h0M165.8 270.7h0M130.1 263.8h0M151.8 258.0h0M120.5 259.6h0M148.4 266.8h0M160.1 271.4h0M134.8 273.7h0M165.5 263.7h0M144.6 271.0h0M146.7 270.0h0M106.2 224.6h0M127.3 230.5h0M117.6 256.4h0M181.4 253.3h0M153.9 272.1h0M173.6 270.2h0M164.8 256.6h0M167.6 258.8h0M145.7 251.0h0M133.2 231.4h0M147.7 266.8h0M149.6 269.6h0M152.0 250.9h0M152.9 254.9h0M127.1 250.9h0M131.3 255.0h0M129.8 263.1h0M157.2 268.0h0M161.4 255.0h0M132.9 267.3h0M141.6 261.6h0M167.1 269.4h0M167.4 257.1h0M180.6 255.7h0M182.6 268.4h0M133.2 255.9h0M164.2 271.9h0M143.5 269.2h0M136.0 257.7h0M161.5 267.1h0M202.6 252.7h0M167.7 250.0h0M159.5 233.0h0M157.4 255.8h0M154.6 271.3h0M161.9 267.7h0M164.8 271.7h0M160.8 269.3h0M111.6 194.0h0M164.0 261.8h0M179.3 260.6h0M121.8 261.3h0M155.2 259.1h0M168.7 273.0h0M144.0 263.0h0M153.0 260.3h0M122.3 248.4h0M175.2 267.0h0M142.6 267.6h0M158.7 210.9h0M188.0 248.4h0M172.4 258.0h0M141.2 261.8h0M152.3 271.5h0M145.6 250.0h0M167.1 272.7h0M162.9 263.9h0M128.4 258.7h0M163.9 246.0h0M161.5 273.2h0M150.2 267.5h0M169.5 256.6h0M135.1 221.5h0M156.1 268.6h0M132.1 270.8h0M141.4 269.4h0M175.7 270.6h0M171.5 242.0h0M157.5 260.5h0M152.5 270.6h0M140.2 266.6h0M144.3 258.0h0M114.7 261.8h0M173.0 266.1h0M148.6 262.3h0M159.4 265.9h0M182.0 271.5h0M176.2 257.9h0M170.3 272.3h0M164.7 254.6h0M150.2 265.8h0M157.9 269.0h0M156.2 268.9h0M147.4 268.7h0M125.5 251.3h0M110.7 220.4h0M141.5 273.3h0M146.0 250.6h0M157.5 245.5h0M132.1 247.7h0M156.4 235.4h0M145.1 269.2h0M150.2 258.0h0M106.8 226.1h0M114.8 231.8h0M156.0 272.0h0" stroke-opacity="0.17"/>
<path d="M165.5 270.6h0M159.4 271.2h0M86.1 193.4h0M129.2 233.2h0M157.3 269.7h0M183.0 263.5h0M147.9 258.8h0M135.1 261.6h0M146.8 267.8h0M159.3 256.5h0M149.6 270.9h0M160.5 273.0h0M146.4 262.1h0M117.3 245.8h0M172.0 241.8h0M171.3 243.4h0M118.1 200.7h0M135.4 260.0h0M160.5 266.5h0M153.0 272.3h0M136.0 265.5h0M139.0 271.2h0M131.5 241.9h0M156.9 261.0h0M120.6 242.5h0M190.3 272.3h0M179.2 246.9h0M135.6 263.9h0M190.9 254.7h0M154.4 267.6h0M162.3 262.9h0M172.1 264.8h0M119.4 248.6h0M144.3 247.0h0M134.0 262.1h0M125.7 262.7h0M133.0 251.7h0M157.0 263.9h0M122.5 253.1h0M140.7 273.3h0M150.6 270.6h0M149.9 258.6h0M162.3 267.0h0M161.8 258.9h0M159.6 272.5h0M132.1 263.5h0M176.1 269.1h0M117.9 230.3h0M155.1 257.8h0M175.4 265.9h0M171.4 266.0h0M151.6 260.3h0M170.8 253.5h0M138.1 267.9h0M152.5 246.0h0M131.2 263.1h0M145.0 250.8h0M145.7 242.3h0M166.9 270.3h0M168.1 255.0h0M129.1 242.9h0M136.9 262.9h0M151.5 233.5h0M171.1 268.5h0M150.1 273.9h0M159.2 268.3h0M159.3 266.3h0M153.8 273.8h0M148.7 268.7h0M162.4 258.0h0M155.9 268.6h0M139.7 216.1h0M171.0 270.6h0M160.4 272.9h0M146.1 266.0h0M157.6 265.8h0M156.6 265.7h0M173.0 271.9h0M143.8 273.6h0M146.0 246.4h0M149.3 267.4h0M161.1 253.3h0M143.4 229.3h0M138.8 261.9h0M153.4 264.3h0M133.9 264.7h0M150.8 250.3h0M139.5 242.9h0M159.7 269.8h0M158.6 273.2h0M124.8 252.7h0M165.1 260.6h0M167.4 273.5h0M143.0 239.4h0M173.3 244.8h0M129.6 262.4h0M163.5 259.9h0M147.3 274.0h0M157.9 256.0h0M144.3 211.8h0M149.5 266.8h0M139.1 269.7h0M155.1 266.8h0M157.5 272.4h0M176.1 266.9h0M168.6 251.3h0M165.5 231.1h0M157.0 252.5h0M154.6 270.1h0M162.3 264.2h0M164.1 232.9h0M176.2 265.7h0M170.4 269.7h0M133.6 221.2h0M164.7 265.2h0M158.2 269.0h0M153.7 253.1h0M165.6 273.2h0M137.5 267.5h0M156.5 265.2h0M186.5 270.6h0M135.5 248.5h0M170.3 264.0h0M166.9 221.8h0M147.8 261.2h0M126.7 217.5h0M140.2 237.4h0M171.0 270.4h0M163.8 262.2h0M155.1 257.3h0M143.9 269.4h0M188.0 243.5h0M169.5 251.1h0M152.6 270.2h0M171.5 271.3h0M135.9 261.2h0M147.0 258.7h0M165.5 273.0h0M166.3 260.1h0M163.6 259.2h0M152.3 266.6h0M140.8 267.7h0M152.0 247.3h0M177.2 273.9h0M152.8 255.6h0M118.7 251.9h0M146.6 259.5h0M121.9 257.4h0M147.7 264.7h0M167.8 268.7h0M140.2 263.0h0M156.2 263.2h0M155.0 262.5h0M141.3 268.9h0M118.7 250.3h0M162.4 269.5h0M158.8 270.9h0M147.6 223.3h0M167.1 259.2h0M152.7 254.8h0M144.7 243.2h0M156.9 254.1h0M152.6 270.2h0M122.6 255.9h0M146.1 272.1h0M154.0 269.3h0M124.4 224.3h0M179.3 246.9h0M134.9 207.2h0M188.7 233.6h0M132.1 271.6h0M185.3 258.0h0M155.1 264.2h0M168.0 268.6h0M141.8 233.5h0M129.3 272.3h0M147.3 268.6h0M166.1 272.9h0M147.4 268.1h0M151.9 264.3h0M154.5 236.0h0M135.1 271.0h0M146.9 266.4h0M150.0 269.3h0M139.7 272.3h0M120.5 257.0h0M125.4 236.5h0M171.0 263.7h0M169.2 250.6h0M153.6 249.9h0M121.3 260.1h0M125.9 258.4h0M83.3 239.9h0M143.5 252.3h0M128.1 246.9h0M150.3 269.5h0M133.9 264.8h0M139.7 270.4h0M143.0 250.8h0M148.5 262.8h0M174.5 244.6h0M114.3 238.1h0M142.3 247.1h0M133.8 241.4h0M146.4 256.3h0M153.1 261.7h0M163.6 250.3h0M173.8 230.6h0M167.4 267.5h0M141.3 243.5h0M139.1 261.6h0M199.8 271.7h0M159.2 268.7h0M142.5 267.7h0M158.8 270.8h0M152.2 267.1h0M135.1 272.4h0M112.7 244.4h0M198.1 251.3h0M166.8 267.8h0M148.6 245.0h0M125.6 252.2h0M168.8 270.6h0M164.7 271.0h0M151.2 271.3h0M161.0 270.4h0M149.5 237.1h0M180.1 263.8h0M128.0 233.0h0M163.3 272.2h0M137.1 260.4h0M186.8 249.4h0M115.4 250.8h0M156.0 269.4h0M144.4 261.8h0M150.8 262.7h0M177.7 231.0h0M165.2 253.4h0M161.8 272.0h0M156.9 264.4h0M146.4 258.9h0M173.7 269.4h0M119.5 201.2h0M113.3 254.6h0M143.5 228.5h0M152.6 267.7h0M157.3 253.7h0M135.2 264.0h0M177.2 238.5h0M97.4 192.8h0M167.3 251.8h0M166.7 269.6h0M179.6 254.8h0M150.1 270.2h0M142.9 219.7h0M141.4 246.7h0M160.8 257.7h0M193.8 273.8h0M124.8 246.8h0M145.7 264.9h0M175.1 236.6h0M158.9 260.6h0M158.9 273.4h0M167.0 270.2h0M105.0 241.9h0M150.0 257.3h0M169.5 273.5h0M149.8 265.7h0M151.4 248.4h0M117.5 220.3h0M160.7 246.3h0M140.3 254.4h0M163.0 257.6h0M160.2 273.7h0M142.0 261.5h0M173.4 262.0h0M160.9 258.9h0M140.4 258.6h0M161.7 258.0h0M147.5 265.6h0M147.5 263.7h0M140.1 259.6h0M134.8 260.6h0M157.1 269.2h0M169.9 268.8h0" stroke-opacity="0.17"/>
<path d="M170.4 273.4h0M159.5 268.2h0M127.3 264.0h0M188.8 271.4h0M154.5 260.7h0M160.0 271.5h0M115.9 245.5h0M156.1 271.8h0M132.4 263.4h0M143.1 256.2h0M136.5 258.7h0M146.9 252.9h0M130.2 265.9h0M138.4 268.4h0M160.0 258.0h0M135.0 265.0h0M149.9 258.5h0M146.1 241.8h0M158.5 264.1h0M143.3 265.6h0M142.5 251.3h0M171.2 257.5h0M138.9 236.6h0M149.1 262.8h0M125.4 241.1h0M147.3 271.4h0M131.8 265.4h0M137.6 219.2h0M110.8 202.9h0M166.1 271.4h0M135.0 271.9h0M167.6 266.9h0M137.2 267.1h0M142.6 269.9h0M169.8 270.9h0M156.1 212.0h0M170.2 271.6h0M171.1 264.3h0M174.1 267.7h0M164.7 251.4h0M116.6 190.1h0M86.6 180.6h0M123.9 258.2h0M144.4 266.5h0M135.0 266.4h0M170.5 256.7h0M141.1 250.4h0M148.8 268.4h0M167.1 271.1h0M98.3 192.6h0M124.4 257.7h0M157.0 265.7h0M114.0 243.6h0M140.2 259.0h0M142.5 261.4h0M140.1 223.9h0M174.1 270.5h0M162.6 265.4h0M155.5 273.6h0M149.4 256.7h0M180.1 268.2h0M145.8 251.0h0M126.9 266.7h0M155.4 267.5h0M158.2 262.6h0M160.4 271.6h0M135.1 264.3h0M157.6 270.8h0M154.8 270.6h0M144.1 265.5h0M108.4 223.9h0M147.9 230.9h0M165.9 273.6h0M151.0 268.6h0M97.6 185.0h0M169.5 273.4h0M103.6 195.6h0M155.3 268.2h0M158.0 251.4h0M126.5 266.0h0M158.5 257.0h0M158.4 273.3h0M151.7 258.7h0M138.5 267.8h0M156.7 269.3h0M143.4 264.5h0M140.4 265.1h0M184.0 252.9h0M148.8 262.9h0M94.8 194.5h0M141.7 271.8h0M166.7 272.6h0M142.3 269.0h0M159.1 254.0h0M134.0 253.7h0M150.7 267.8h0M179.9 272.9h0M133.7 210.2h0M175.1 266.4h0M100.1 219.3h0M157.0 272.3h0M133.8 261.2h0M137.3 254.0h0M152.2 272.1h0M182.0 268.3h0M170.5 273.9h0M167.3 269.7h0M154.3 265.2h0M161.8 265.5h0M185.8 269.2h0M166.9 227.1h0M148.1 269.3h0M178.1 247.9h0M180.0 271.8h0M149.6 253.4h0M144.8 246.8h0M152.4 233.2h0M139.5 235.1h0M152.9 258.7h0M129.1 254.5h0M137.9 248.8h0M179.5 260.0h0M145.8 237.1h0M144.0 268.7h0M156.0 262.0h0M176.5 272.0h0M149.8 265.3h0M157.4 268.0h0M150.6 270.6h0M153.8 267.7h0M156.7 254.1h0M143.6 260.8h0M186.0 230.4h0M112.6 234.9h0M166.6 243.5h0M167.4 271.4h0M143.4 273.8h0M169.3 264.1h0M190.8 257.3h0M160.5 268.6h0M143.5 267.9h0M167.9 250.0h0M153.0 260.2h0M152.1 269.6h0M170.2 256.1h0M152.2 269.9h0M115.2 240.6h0M146.6 265.9h0M153.5 258.3h0M152.7 272.1h0M169.9 266.6h0M186.8 265.8h0M153.8 273.5h0M176.2 255.2h0M154.9 254.4h0M176.6 267.0h0M157.4 259.2h0M160.8 255.7h0M130.5 240.5h0M152.4 272.4h0M151.2 256.0h0M110.7 230.3h0M117.3 262.9h0M160.5 261.3h0M135.5 217.4h0M137.7 252.6h0M133.3 251.3h0M204.4 258.1h0M150.5 247.8h0M157.7 258.4h0M179.2 266.4h0M149.8 267.3h0M159.6 247.2h0M161.7 267.9h0M146.6 268.4h0M122.9 240.3h0M160.6 269.4h0M160.3 267.3h0M167.9 243.9h0M149.3 242.5h0M127.3 206.4h0M154.9 273.2h0M154.0 273.8h0M116.8 254.0h0M143.4 271.7h0M152.3 231.0h0M160.8 267.7h0M136.4 264.7h0M172.9 260.7h0M129.2 255.4h0M140.2 269.6h0M109.4 231.9h0M169.9 267.9h0M138.3 243.3h0M164.6 240.0h0M149.4 270.2h0M170.6 266.3h0M171.8 261.9h0M153.7 263.5h0M166.4 249.8h0M133.9 258.8h0M188.4 265.2h0M168.4 236.8h0M135.3 266.4h0M138.7 262.9h0M168.2 271.8h0M156.1 261.9h0M129.2 260.6h0M180.1 257.0h0M149.1 261.4h0M161.7 268.9h0M167.1 258.0h0M147.5 271.5h0M148.2 269.6h0M128.1 238.1h0M157.3 257.8h0M114.3 237.8h0M167.0 255.3h0M168.9 270.9h0M160.7 271.0h0M164.2 265.3h0M151.6 256.4h0M138.8 258.3h0M146.6 249.8h0M136.0 253.8h0M163.2 248.3h0M160.4 272.3h0M165.0 234.0h0M138.3 258.1h0M136.5 232.5h0M163.1 252.6h0M145.2 230.3h0M168.8 249.7h0M156.7 256.8h0M139.7 273.3h0M170.0 268.5h0M176.3 266.2h0M154.2 262.0h0M138.3 262.6h0M115.6 246.5h0M171.7 248.1h0M161.1 270.5h0M167.6 260.8h0M169.5 270.1h0M125.5 245.7h0M164.9 273.4h0M151.5 269.6h0M176.1 260.7h0M144.0 262.1h0M159.8 266.3h0M164.2 244.6h0M106.8 224.7h0M154.2 251.0h0M163.7 263.7h0M147.1 262.8h0M149.2 274.0h0M167.9 248.5h0M198.7 255.3h0M108.6 228.2h0M172.6 245.7h0M143.0 271.5h0M175.1 269.5h0M107.4 236.8h0M115.4 258.0h0M154.1 271.7h0M126.8 255.8h0M159.8 258.3h0M130.8 259.7h0M162.3 264.5h0M138.1 229.7h0M170.9 271.3h0M186.8 259.5h0M155.0 260.8h0M161.0 271.5h0M136.2 254.1h0M147.0 261.3h0M152.2 254.9h0M177.4 267.0h0M161.5 246.0h0M146.2 265.0h0M157.6 241.1h0M190.1 267.0h0M146.4 256.3h0M186.5 253.0h0M176.2 265.6h0M177.1 260.5h0" stroke-opacity="0.17"/>
<path d="M146.5 260.2h0M122.1 254.8h0M140.9 238.8h0M159.7 269.0h0M134.8 263.6h0M148.1 270.4h0M186.0 261.2h0M175.7 273.5h0M130.9 233.0h0M136.9 264.5h0M124.4 264.1h0M155.2 269.0h0M138.7 260.4h0M124.1 261.3h0M152.2 268.5h0M146.0 262.0h0M162.9 260.6h0M148.4 267.8h0M132.9 264.3h0M154.9 268.3h0M136.4 262.4h0M156.5 238.2h0M175.6 243.9h0M137.9 269.8h0M156.5 264.4h0M164.5 252.6h0M148.9 273.7h0M153.1 266.5h0M143.4 269.5h0M164.1 232.8h0M160.7 266.0h0M144.9 262.8h0M161.0 265.6h0M155.1 236.6h0M168.7 267.4h0M176.6 259.7h0M127.7 258.4h0M148.0 263.3h0M156.7 263.7h0M172.9 253.6h0M136.3 233.1h0M123.1 262.5h0M172.5 238.3h0M151.4 260.4h0M176.1 262.6h0M145.5 246.8h0M143.3 268.5h0M141.7 254.9h0M144.6 234.3h0M153.4 269.4h0M164.5 242.7h0M161.0 256.1h0M165.7 271.8h0M120.0 267.2h0M158.0 273.9h0M155.5 273.4h0M152.9 247.1h0M150.8 253.3h0M107.3 233.2h0M153.5 236.9h0M106.6 230.8h0M154.9 265.8h0M164.6 269.2h0M160.7 272.1h0M156.4 268.7h0M144.0 248.7h0M175.1 267.5h0M153.6 269.5h0M155.9 272.6h0M164.6 266.5h0M170.2 239.3h0M142.3 271.7h0M164.9 267.4h0M158.5 249.1h0M158.8 266.9h0M172.7 266.0h0M180.4 256.5h0M150.2 265.3h0M136.6 205.6h0M143.8 266.8h0M111.6 224.3h0M167.9 270.6h0M179.0 250.7h0M144.0 259.1h0M138.4 264.6h0M137.2 260.5h0M132.3 267.8h0M153.1 271.4h0M146.8 270.2h0M145.2 269.5h0M129.5 203.6h0M153.6 267.7h0M161.2 267.1h0M131.5 263.7h0M154.5 225.4h0M171.6 269.1h0M143.3 253.9h0M138.9 272.3h0M98.7 209.1h0M178.5 270.7h0M128.6 262.2h0M144.3 263.2h0M163.1 267.6h0M171.3 264.1h0M164.4 251.6h0M144.7 270.8h0M164.5 273.9h0M183.6 234.1h0M151.0 273.5h0M151.0 266.9h0M144.7 272.3h0M151.2 256.2h0M158.6 265.0h0M172.2 255.7h0M148.2 268.4h0M124.1 237.2h0M104.6 249.0h0M144.1 232.7h0M149.1 269.4h0M128.3 266.7h0M130.3 242.9h0M173.3 239.1h0M127.3 224.1h0M127.2 257.0h0M165.4 268.3h0M145.2 264.7h0M135.0 271.5h0M154.9 269.5h0M163.9 272.1h0M164.8 269.0h0M154.0 268.2h0M156.6 265.8h0M157.9 266.7h0M190.1 257.6h0M129.3 269.0h0M180.0 239.1h0M167.8 272.9h0M155.7 251.4h0M144.3 269.6h0M159.0 272.7h0M134.2 256.7h0M146.0 269.1h0M119.2 222.5h0M161.4 257.2h0M158.2 266.6h0M147.3 259.2h0M138.2 246.3h0M166.3 241.4h0M118.0 227.2h0M162.0 264.8h0M143.6 231.8h0M183.7 248.6h0M148.3 267.8h0M114.4 250.2h0M150.3 247.2h0M124.9 246.1h0M157.4 267.7h0M156.5 238.0h0M154.1 255.3h0M97.7 237.3h0M174.7 270.1h0M137.2 270.6h0M149.5 255.8h0M145.7 242.4h0M141.0 264.5h0M158.6 264.2h0M138.0 262.4h0M148.8 262.9h0M108.5 224.7h0M159.6 266.0h0M151.5 268.7h0M139.8 271.0h0M139.6 244.1h0M156.7 268.6h0M164.8 271.3h0M138.3 238.9h0M134.4 249.5h0M149.6 271.6h0M149.9 257.2h0M161.8 262.8h0M139.7 214.4h0M151.4 269.3h0M179.2 270.2h0M155.8 270.7h0M147.5 266.4h0M162.3 242.4h0M150.6 266.8h0M169.6 259.9h0M178.9 270.7h0M147.0 267.7h0M127.7 208.8h0M157.9 259.9h0M137.7 260.8h0M140.9 269.3h0M157.6 268.1h0M142.9 267.0h0M131.9 241.0h0M113.1 193.7h0M163.2 232.6h0M168.4 263.0h0M153.7 272.4h0M168.7 265.1h0M144.6 257.3h0M177.3 250.7h0M164.6 248.7h0M168.1 267.7h0M135.6 252.8h0M151.9 230.3h0M155.6 264.7h0M135.4 242.6h0M135.6 208.4h0M127.4 223.4h0M155.2 263.2h0M158.8 268.4h0M163.8 267.0h0M160.2 271.5h0M126.1 259.0h0M114.5 222.8h0M171.7 265.2h0M126.1 253.4h0M155.5 240.8h0M149.2 268.2h0M161.0 248.5h0M128.5 269.7h0M175.1 251.6h0M124.8 244.1h0M120.9 226.7h0M171.7 265.1h0M144.2 270.5h0M149.7 261.8h0M162.8 273.8h0M162.7 264.1h0M162.5 272.7h0M129.1 249.7h0M171.1 248.8h0M152.1 265.5h0M166.3 264.1h0M154.6 272.4h0M150.6 264.8h0M139.2 268.2h0M132.9 246.2h0M145.3 266.4h0M169.1 263.7h0M173.5 272.3h0M165.0 259.3h0M160.6 241.1h0M157.0 269.1h0M133.2 244.6h0M154.2 221.1h0M166.3 265.9h0M148.2 264.4h0M143.0 256.3h0M131.3 256.8h0M155.0 247.7h0M174.0 256.3h0M160.8 262.9h0M86.4 215.6h0M119.0 259.4h0M124.7 261.0h0M168.9 260.2h0M198.0 250.9h0M153.8 245.9h0M150.1 272.9h0M184.9 269.6h0M149.7 258.9h0M144.4 255.1h0M125.7 248.8h0M158.2 259.3h0M137.7 260.3h0M133.6 255.9h0M173.0 271.4h0M170.2 271.0h0M153.2 240.6h0M139.7 268.6h0M117.7 224.3h0M173.7 273.1h0M173.3 245.0h0M165.1 268.7h0M150.5 269.6h0" stroke-opacity="0.17"/>
<path d="M151.2 246.8h0M149.5 249.4h0M178.6 272.8h0M155.0 227.8h0M120.2 223.8h0M142.0 233.1h0M110.2 226.7h0M135.0 265.0h0M167.2 259.7h0M184.2 245.3h0M165.1 272.9h0M150.7 273.3h0M153.7 267.4h0M130.2 264.9h0M155.6 265.4h0M141.4 271.1h0M138.7 243.5h0M166.4 252.8h0M129.8 229.3h0M142.9 232.9h0M179.9 271.3h0M152.5 235.1h0M161.7 271.3h0M170.5 272.7h0M146.7 259.5h0M159.3 272.4h0M142.8 262.6h0M145.2 264.5h0M107.4 224.4h0M151.6 270.8h0M155.9 268.2h0M160.2 265.1h0M96.6 191.2h0M152.1 272.2h0M127.2 259.4h0M152.5 254.3h0M115.3 261.2h0M112.7 198.0h0M140.3 238.7h0M123.4 261.7h0M178.3 271.0h0M148.5 271.3h0M133.8 271.7h0M149.9 271.9h0M171.0 237.0h0M132.4 265.4h0M156.4 269.2h0M170.1 263.3h0M126.9 216.1h0M125.2 250.9h0M158.6 244.3h0M187.0 261.0h0M144.2 272.2h0M149.3 252.1h0M164.9 273.8h0M151.2 263.3h0M140.2 254.2h0M145.0 260.0h0M132.1 262.9h0M147.5 272.6h0M150.0 272.1h0M142.3 258.4h0M123.2 268.2h0M141.1 268.2h0M171.3 265.6h0M178.8 248.0h0M169.9 259.9h0M167.8 270.8h0M158.5 269.2h0M121.8 230.3h0M134.1 215.4h0M141.9 268.0h0M155.5 266.1h0M157.7 236.8h0M148.4 251.1h0M156.7 272.9h0M153.1 271.2h0M153.3 274.0h0M156.4 272.8h0M124.7 232.0h0M115.1 214.3h0M161.3 262.3h0M167.8 273.0h0M161.2 273.0h0M137.4 268.9h0M137.8 273.6h0M151.9 273.9h0M149.2 272.4h0M167.6 243.4h0M176.6 266.7h0M146.2 260.5h0M137.8 266.6h0M137.8 263.0h0M180.1 268.2h0M169.6 270.8h0M184.0 271.0h0M163.0 227.1h0M179.3 258.4h0M136.6 257.9h0M169.7 273.2h0M141.6 263.7h0M132.7 256.0h0M171.2 263.5h0M175.9 272.9h0M177.4 262.9h0M146.3 245.2h0M150.5 274.0h0M149.4 257.1h0M181.8 248.7h0M135.3 222.0h0M149.2 271.0h0M172.4 272.4h0M165.1 262.6h0M158.7 257.0h0M143.8 273.2h0M156.6 264.4h0M146.0 263.5h0M146.6 262.1h0M189.3 244.4h0M143.4 259.8h0M155.3 253.7h0M160.3 264.7h0M172.2 259.5h0M147.1 273.0h0M162.9 271.6h0M143.5 265.3h0M151.6 273.0h0M145.1 255.6h0M135.5 257.8h0M130.2 260.1h0M131.5 261.8h0M159.0 261.2h0M157.8 263.7h0M140.8 220.3h0M135.6 268.5h0M155.0 273.5h0M152.5 270.0h0M140.3 266.5h0M155.4 272.4h0M148.0 250.3h0M132.6 270.6h0M175.4 272.4h0M166.5 249.9h0M129.5 208.0h0M156.3 255.0h0M160.1 242.1h0M159.7 271.6h0M150.3 273.2h0M151.9 251.9h0M137.0 242.4h0M146.0 266.7h0M137.4 270.7h0M176.4 227.8h0M188.3 270.5h0M150.0 268.3h0M176.5 273.9h0M118.9 257.7h0M142.5 258.1h0M133.1 247.2h0M118.4 254.3h0M173.2 273.7h0M160.1 247.3h0M166.8 258.8h0M120.3 240.5h0M162.5 257.5h0M125.3 258.9h0M140.9 258.5h0M168.9 248.0h0M130.5 250.3h0M132.6 259.4h0M150.8 214.3h0M153.9 265.6h0M135.7 268.7h0M157.0 265.6h0M155.7 264.0h0M163.2 273.3h0M175.9 257.7h0M102.2 193.1h0M170.3 261.3h0M163.0 265.3h0M169.9 266.3h0M81.1 183.3h0M149.9 272.6h0M149.3 270.6h0M159.8 263.9h0M168.2 269.2h0M142.0 266.0h0M163.7 273.7h0M125.7 244.7h0M155.5 272.1h0M127.5 259.5h0M178.2 259.5h0M154.9 259.0h0M134.3 232.5h0M166.6 238.3h0M172.7 272.2h0M169.2 263.0h0M137.1 273.5h0M154.5 272.4h0M156.4 245.9h0M152.9 272.1h0M151.9 241.4h0M121.4 262.6h0M153.1 259.7h0M146.9 250.7h0M128.5 254.7h0M121.0 267.2h0M185.4 258.7h0M165.7 268.6h0M179.8 271.5h0M158.1 267.7h0M182.0 268.2h0M172.4 265.6h0M163.6 260.2h0M182.3 269.3h0M144.8 258.8h0M161.7 254.9h0M141.6 252.4h0M141.9 259.3h0M146.6 236.8h0M141.6 266.1h0M132.2 217.3h0M141.4 247.3h0M167.9 232.3h0M160.7 270.4h0M164.5 269.6h0M175.6 221.4h0M162.4 221.6h0M152.8 252.0h0M125.8 240.5h0M122.4 263.9h0M186.7 269.6h0M171.7 249.1h0M188.2 255.2h0M157.4 231.1h0M152.8 271.3h0M140.5 268.0h0M119.7 224.1h0M123.7 199.7h0M131.3 268.3h0M159.6 251.4h0M158.8 270.4h0M174.3 271.4h0M157.7 219.5h0M157.1 273.3h0M170.8 265.1h0M122.0 253.8h0M145.2 244.8h0M147.8 267.6h0M156.7 273.6h0M139.0 257.2h0M161.1 271.7h0M153.5 269.1h0M133.1 250.9h0M168.0 257.8h0M181.7 263.4h0M175.3 253.0h0M195.5 258.0h0M160.0 253.7h0M163.6 271.2h0M143.5 215.6h0M150.9 272.6h0M125.0 234.5h0M164.3 258.8h0M150.6 268.9h0M164.6 255.8h0M165.4 260.4h0M147.4 270.0h0M139.4 246.8h0M153.1 252.6h0M147.4 266.5h0M120.5 209.4h0M180.7 271.8h0M120.9 254.8h0M153.9 270.5h0M180.2 270.3h0M169.1 259.9h0M156.1 264.2h0M161.5 264.3h0" stroke-opacity="0.17"/>
<path d="M156.0 269.0h0M182.2 241.0h0M162.1 268.2h0M133.0 265.0h0M140.7 270.3h0M161.0 260.9h0M156.5 244.1h0M157.2 269.0h0M156.3 265.6h0M158.3 245.5h0M182.1 270.4h0M164.7 266.3h0M174.0 263.8h0M163.5 272.2h0M151.1 273.7h0M172.0 271.8h0M140.8 250.3h0M137.4 255.8h0M172.6 272.9h0M157.7 265.9h0M131.4 240.3h0M120.4 203.0h0M162.4 263.9h0M122.8 232.2h0M140.5 250.5h0M152.4 267.5h0M163.6 271.7h0M147.8 268.6h0M126.3 244.0h0M147.3 252.5h0M171.5 263.5h0M144.1 272.2h0M183.4 269.8h0M143.4 273.2h0M128.3 254.9h0M143.4 242.1h0M129.6 218.2h0M168.3 262.3h0M155.2 266.4h0M186.0 265.1h0M155.5 261.5h0M135.0 269.6h0M150.0 254.2h0M177.7 255.6h0M162.1 254.2h0M142.7 261.7h0M154.8 251.2h0M146.7 270.7h0M153.7 263.6h0M163.9 246.5h0M163.3 269.8h0M146.1 269.6h0M149.6 250.4h0M163.6 268.7h0M129.4 256.1h0M150.9 273.8h0M156.6 273.7h0M157.4 251.5h0M176.1 271.5h0M156.1 234.1h0M166.1 264.6h0M167.1 272.4h0M166.0 265.0h0M129.6 258.4h0M145.7 266.2h0M184.4 271.9h0M152.8 261.8h0M147.8 268.3h0M177.6 261.5h0M162.9 250.7h0M150.2 251.2h0M152.1 270.6h0M164.9 270.0h0M145.8 235.8h0M168.5 264.6h0M174.7 249.5h0M132.2 233.6h0M175.9 262.3h0M177.0 270.9h0M191.4 265.0h0M161.4 273.7h0M152.2 263.1h0M163.1 263.5h0M202.8 245.6h0M160.8 270.2h0M174.9 270.3h0M156.4 263.8h0M201.2 260.6h0M132.5 265.0h0M151.5 258.9h0M145.6 262.7h0M183.7 240.1h0M145.9 233.3h0M114.1 241.4h0M152.8 271.7h0M140.6 267.3h0M151.0 271.5h0M101.8 203.3h0M152.9 269.0h0M141.3 252.4h0M183.0 251.0h0M168.0 270.7h0M173.3 265.4h0M125.4 266.7h0M160.5 269.8h0M176.4 273.8h0M118.3 196.2h0M186.1 266.8h0M181.1 272.4h0M149.2 267.6h0M176.6 220.0h0M163.8 263.2h0M137.0 253.3h0M138.7 226.9h0M141.0 252.3h0M156.2 241.2h0M124.2 250.4h0M137.6 269.8h0M144.2 254.2h0M158.3 272.3h0M162.6 269.5h0M135.3 227.2h0M170.3 271.8h0M145.7 226.2h0M169.9 251.2h0M171.2 271.0h0M169.3 267.1h0M132.2 254.7h0M161.7 268.2h0M140.4 242.5h0M145.8 268.6h0M170.7 262.6h0M147.3 256.7h0M130.0 239.0h0M110.1 202.8h0M155.3 273.1h0M139.5 234.1h0M164.8 270.9h0M173.1 262.1h0M154.9 262.2h0M139.8 227.0h0M151.7 273.3h0M156.6 263.5h0M175.4 273.8h0M114.7 197.6h0M178.7 269.3h0M93.7 188.9h0M122.8 227.5h0M129.1 268.5h0M187.2 267.4h0M112.4 257.6h0M164.4 255.0h0M154.4 259.5h0M153.2 246.9h0M158.9 252.1h0M129.2 269.6h0M156.3 272.1h0M167.6 234.4h0M167.1 273.6h0M162.8 247.2h0M139.5 252.3h0M142.4 243.3h0M117.2 238.2h0M126.3 262.7h0M140.5 273.6h0M185.1 273.0h0M142.9 265.5h0M199.2 264.4h0M162.8 261.9h0M109.1 210.6h0M107.4 247.5h0M166.6 249.6h0M134.5 272.8h0M131.9 251.6h0M167.1 271.9h0M130.7 247.3h0M133.7 266.8h0M150.2 262.8h0M164.1 259.2h0M167.7 264.9h0M120.9 250.8h0M132.8 225.9h0M178.5 264.6h0M155.6 263.9h0M156.0 273.8h0M163.3 252.4h0M152.4 259.3h0M139.0 265.6h0M136.2 226.7h0M174.3 265.3h0M142.1 249.8h0M155.5 273.0h0M152.7 267.6h0M194.9 259.6h0M149.0 270.1h0M143.8 260.3h0M148.2 262.0h0M148.0 263.2h0M142.7 269.1h0M150.1 260.4h0M155.3 273.8h0M156.5 272.0h0M165.7 270.2h0M159.9 262.6h0M128.1 253.8h0M130.2 235.3h0M150.7 268.2h0M154.3 266.5h0M127.2 260.0h0M133.7 234.2h0M133.2 243.3h0M151.9 226.1h0M159.6 259.1h0M177.4 259.1h0M152.1 229.4h0M151.0 270.1h0M158.0 269.5h0M139.0 257.6h0M145.4 264.5h0M97.1 266.8h0M147.5 271.9h0M153.6 270.3h0M184.1 273.3h0M183.4 259.1h0M154.1 266.2h0M152.1 261.1h0M134.6 254.4h0M171.4 257.7h0M176.3 247.3h0M143.5 267.6h0M177.8 271.7h0M166.4 255.1h0M162.3 270.5h0M126.5 243.9h0M184.2 273.3h0M154.1 263.2h0M146.6 269.3h0M174.5 271.9h0M147.4 261.9h0M136.7 229.3h0M162.0 259.1h0M126.5 258.8h0M146.6 272.2h0M149.3 271.4h0M153.7 248.9h0M157.8 266.7h0M171.3 236.2h0M163.5 249.1h0M125.3 253.9h0M125.4 256.0h0M186.0 252.8h0M128.0 248.3h0M179.6 261.9h0M167.5 263.5h0M186.3 268.6h0M189.7 273.9h0M165.4 263.8h0M178.2 264.3h0M155.3 242.0h0M153.9 270.2h0M147.8 270.9h0M133.4 256.9h0M169.4 250.5h0M150.2 244.9h0M138.1 267.2h0M151.3 261.8h0M134.1 270.6h0M134.5 225.8h0M170.4 267.0h0M125.0 258.2h0M171.9 266.7h0M146.3 238.8h0M122.5 233.4h0M175.0 256.0h0M122.1 225.1h0M118.1 212.1h0M155.3 255.9h0" stroke-opacity="0.17"/>
<path d="M170.5 270.8h0M157.8 273.8h0M143.0 256.0h0M127.1 242.1h0M153.2 271.2h0M117.8 248.0h0M163.0 245.3h0M128.1 238.7h0M134.5 273.7h0M150.8 256.9h0M186.5 248.8h0M176.6 273.9h0M147.6 266.7h0M148.3 224.7h0M162.8 234.0h0M174.7 251.6h0M158.1 265.5h0M144.4 261.5h0M108.2 191.2h0M152.3 273.0h0M199.4 261.2h0M157.4 253.8h0M103.4 214.0h0M198.6 267.2h0M112.7 230.1h0M168.6 271.5h0M178.3 272.9h0M120.5 260.6h0M155.6 262.1h0M139.1 273.7h0M141.6 252.6h0M158.3 219.9h0M167.0 262.6h0M117.5 245.5h0M160.0 269.6h0M163.4 255.4h0M137.0 264.2h0M131.5 231.1h0M185.1 266.7h0M138.3 260.8h0M121.2 247.4h0M153.8 235.1h0M138.8 267.0h0M143.1 258.1h0M156.2 273.5h0M152.4 272.9h0M162.3 267.5h0M156.9 259.2h0M178.6 256.8h0M152.0 244.6h0M149.7 269.3h0M144.8 269.0h0M150.6 264.6h0M135.8 264.6h0M143.9 242.9h0M133.9 257.7h0M144.8 247.4h0M131.1 264.2h0M142.2 258.7h0M138.3 265.2h0M130.1 256.5h0M144.3 225.4h0M155.1 261.9h0M171.6 269.1h0M135.2 257.4h0M125.0 259.8h0M148.1 230.7h0M149.0 263.4h0M167.9 269.9h0M166.5 259.0h0M175.9 267.6h0M177.4 272.9h0M159.1 267.2h0M135.8 270.2h0M164.2 268.7h0M150.1 254.6h0M135.3 247.9h0M141.2 255.3h0M135.8 257.3h0M138.7 268.2h0M150.6 261.1h0M122.4 196.0h0M152.1 266.1h0M181.0 262.7h0M154.3 253.4h0M139.7 260.9h0M166.6 269.8h0M169.5 267.6h0M143.2 252.4h0M160.6 265.1h0M142.6 263.0h0M170.1 251.0h0M160.3 260.6h0M111.1 197.7h0M105.6 207.8h0M166.3 272.0h0M161.0 272.0h0M124.8 260.9h0M168.3 264.8h0M168.2 256.9h0M145.3 265.2h0M160.8 261.4h0M145.6 271.0h0M141.7 272.3h0M130.3 264.8h0M122.2 235.5h0M152.5 272.0h0M117.7 263.5h0M188.6 261.5h0M159.4 260.8h0M142.3 265.5h0M135.4 261.9h0M142.9 264.4h0M146.9 266.4h0M142.1 262.7h0M156.3 264.3h0M164.4 260.6h0M171.7 261.6h0M177.3 254.1h0M167.3 267.5h0M155.8 269.5h0M179.6 262.2h0M170.0 265.7h0M146.7 262.7h0M128.0 239.5h0M150.2 272.9h0M154.8 267.5h0M182.3 273.0h0M154.0 255.9h0M132.9 242.1h0M148.7 253.8h0M159.7 273.9h0M167.7 272.8h0M169.0 266.8h0M153.4 231.2h0M145.2 272.0h0M155.8 257.9h0M167.4 272.7h0M157.8 267.3h0M158.7 272.1h0M150.9 265.3h0M153.6 252.7h0M151.6 268.3h0M139.5 252.3h0M149.5 269.8h0M187.9 272.1h0M149.4 244.4h0M156.8 254.3h0M141.1 214.9h0M144.0 247.1h0M140.7 263.7h0M162.7 267.6h0M140.1 255.9h0M110.9 232.0h0M159.2 249.3h0M176.8 249.1h0M146.9 266.7h0M162.5 266.8h0M136.5 269.1h0M153.1 272.9h0M150.9 271.5h0M148.5 268.5h0M178.4 270.6h0M112.4 181.5h0M157.7 267.7h0M132.7 271.6h0M158.2 250.4h0M126.4 257.3h0M195.7 257.2h0M144.4 265.3h0M148.6 244.5h0M131.6 261.1h0M159.1 266.2h0M176.6 263.5h0M174.7 261.0h0M172.6 273.5h0M163.3 271.7h0M145.5 260.7h0M162.6 271.4h0M172.0 243.9h0M109.4 244.5h0M136.7 232.4h0M143.9 255.0h0M154.8 272.9h0M134.7 272.9h0M112.8 253.4h0M154.4 267.4h0M144.1 273.6h0M116.2 238.4h0M166.6 257.3h0M144.0 254.0h0M183.1 262.9h0M129.9 265.2h0M159.9 273.8h0M176.0 261.1h0M142.5 226.6h0M143.7 260.0h0M145.9 240.5h0M173.4 273.7h0M125.2 220.5h0M154.6 261.3h0M131.4 256.5h0M134.3 249.6h0M128.6 266.7h0M171.2 268.3h0M143.3 264.4h0M137.5 243.6h0M134.8 238.2h0M173.2 249.3h0M162.7 262.3h0M144.4 227.4h0M174.8 247.3h0M138.2 272.3h0M137.5 269.7h0M123.9 249.0h0M130.7 273.9h0M159.9 273.6h0M110.1 245.6h0M178.0 272.2h0M156.1 273.9h0M154.7 258.2h0M136.6 261.1h0M150.4 269.0h0M181.3 249.7h0M158.9 264.1h0M169.3 270.8h0M184.4 239.8h0M141.4 261.5h0M173.3 229.8h0M132.4 269.0h0M142.4 252.9h0M139.4 240.3h0M140.5 273.8h0M148.3 263.1h0M123.3 243.8h0M132.5 268.6h0M127.4 254.8h0M137.9 263.2h0M130.4 229.3h0M138.7 253.3h0M167.1 244.0h0M169.0 273.0h0M191.1 268.4h0M153.7 265.7h0M153.9 268.4h0M151.4 273.3h0M151.3 251.5h0M164.3 261.7h0M141.1 267.3h0M150.6 269.6h0M178.2 267.3h0M144.5 266.4h0M141.7 253.6h0M145.3 265.8h0M118.3 240.8h0M151.2 249.6h0M146.6 248.4h0M141.1 269.6h0M154.3 254.0h0M121.8 242.5h0M162.7 258.4h0M153.0 263.9h0M131.0 268.4h0M174.9 256.4h0M172.9 272.3h0M142.3 268.0h0M129.1 239.4h0M161.6 268.4h0M139.9 260.6h0M128.7 245.8h0M143.6 265.9h0M127.6 258.5h0M168.2 264.6h0M123.4 246.4h0M134.8 246.0h0M175.3 273.6h0M158.7 268.5h0M137.6 270.9h0M120.5 257.7h0M146.6 244.3h0M165.3 271.3h0M138.5 270.8h0M145.2 252.5h0" stroke-opacity="0.17"/>
<path d="M175.8 253.8h0M174.0 255.4h0M158.4 270.8h0M166.8 271.9h0M121.0 238.8h0M174.7 257.4h0M175.4 253.6h0M129.1 214.5h0M151.2 273.9h0M155.1 257.0h0M148.3 229.6h0M152.6 258.8h0M138.0 253.2h0M156.7 271.8h0M154.6 239.6h0M149.9 240.2h0M161.3 267.7h0M133.3 262.0h0M146.2 259.3h0M151.4 263.9h0M150.1 267.2h0M174.3 243.9h0M166.4 269.9h0M134.0 234.2h0M144.0 247.1h0M173.2 267.0h0M166.1 271.0h0M173.9 260.7h0M156.4 271.7h0M190.8 249.8h0M132.8 210.6h0M132.6 247.0h0M168.5 262.3h0M177.5 270.8h0M164.1 261.6h0M156.6 268.4h0M138.0 237.4h0M125.7 268.2h0M139.7 262.9h0M150.5 256.9h0M122.5 259.2h0M105.9 199.7h0M164.1 270.7h0M161.3 273.5h0M141.1 265.6h0M163.4 267.4h0M159.3 269.9h0M115.9 255.8h0M154.6 238.2h0M88.9 211.4h0M141.8 242.1h0M182.5 272.4h0M141.9 273.5h0M180.5 260.9h0M167.5 269.8h0M171.2 273.6h0M137.8 257.4h0M142.4 258.5h0M151.8 248.4h0M154.0 245.6h0M141.1 259.3h0M126.7 262.9h0M155.8 269.3h0M168.2 272.2h0M155.7 257.3h0M158.8 270.1h0M134.5 266.9h0M139.2 252.7h0M159.8 266.3h0M161.6 273.7h0M170.7 260.7h0M133.3 265.3h0M185.9 271.1h0M135.4 258.5h0M152.4 265.7h0M157.8 270.6h0M148.0 271.9h0M133.3 270.7h0M163.1 240.6h0M152.6 273.5h0M142.3 265.6h0M171.3 264.8h0M159.6 264.5h0M165.3 249.7h0M119.6 246.4h0M166.1 262.4h0M104.7 242.6h0M145.8 235.3h0M163.0 267.1h0M171.3 263.0h0M163.6 265.1h0M149.2 270.1h0M165.4 243.4h0M127.4 234.6h0M153.7 244.3h0M154.3 261.5h0M168.3 247.8h0M164.5 244.8h0M118.1 247.3h0M171.4 262.4h0M147.5 257.5h0M154.5 267.1h0M152.8 271.4h0M132.8 230.0h0M134.2 255.4h0M149.5 271.2h0M157.6 233.9h0M162.9 269.5h0M203.0 260.6h0M163.3 234.3h0M159.8 259.7h0M152.1 243.7h0M159.2 271.7h0M139.4 261.6h0M182.7 264.1h0M114.2 249.3h0M162.9 250.1h0M175.2 273.1h0M179.8 226.2h0M150.5 241.2h0M154.4 263.2h0M160.6 270.3h0M162.1 266.4h0M153.1 262.0h0M122.8 252.5h0M158.2 256.2h0M156.0 271.5h0M172.4 251.9h0M142.3 259.5h0M165.5 245.5h0M169.3 266.0h0M173.2 268.7h0M147.6 273.3h0M158.3 252.6h0M151.7 271.5h0M123.1 208.8h0M138.4 267.2h0M137.4 273.6h0M109.4 240.8h0M127.7 251.8h0M179.8 248.5h0M139.1 261.4h0M124.2 253.1h0M136.5 272.5h0M151.9 273.7h0M132.6 259.3h0M135.2 208.7h0M124.7 219.8h0M139.2 271.5h0M157.5 272.0h0M153.9 268.6h0M150.0 259.7h0M163.3 262.1h0M166.7 260.8h0M123.2 256.2h0M150.9 257.6h0M152.5 219.4h0M155.7 259.5h0M157.6 266.6h0M154.5 227.9h0M111.6 247.1h0M141.3 233.9h0M141.8 265.6h0M172.2 227.1h0M166.2 270.3h0M136.1 266.6h0M151.7 255.3h0M125.2 239.5h0M163.4 265.8h0M148.7 245.6h0M171.2 238.6h0M133.3 248.1h0M143.5 212.3h0M160.1 261.7h0M154.0 261.0h0M152.1 224.6h0M182.7 271.4h0M164.0 271.1h0M139.0 269.6h0M143.5 268.7h0M160.9 228.6h0M169.4 270.5h0M145.9 242.7h0M143.9 259.6h0M147.4 271.1h0M164.7 240.8h0M156.2 252.2h0M147.5 254.8h0M166.4 270.3h0M147.9 270.2h0M117.3 239.9h0M172.6 261.1h0M136.6 237.6h0M139.8 267.5h0M141.2 246.2h0M158.3 272.1h0M153.3 263.5h0M120.3 251.4h0M157.6 264.8h0M168.1 257.9h0M145.2 221.8h0M137.1 268.2h0M166.5 268.9h0M163.2 266.2h0M140.1 241.3h0M158.1 272.2h0M103.5 219.6h0M139.6 266.6h0M139.9 239.7h0M161.7 266.8h0M136.1 241.0h0M158.3 253.3h0M156.3 272.2h0M166.7 268.2h0M149.6 272.3h0M138.1 249.2h0M120.6 249.6h0M183.7 261.6h0M179.5 261.4h0M145.7 233.7h0M156.4 266.6h0M170.8 261.0h0M144.2 264.0h0M132.0 259.0h0M163.6 270.8h0M155.3 258.1h0M133.1 261.8h0M148.4 249.0h0M146.3 226.0h0M161.3 257.7h0M133.5 261.6h0M169.9 271.2h0M180.1 271.6h0M155.2 247.2h0M156.6 244.1h0M140.5 243.1h0M169.5 255.8h0M159.9 269.8h0M142.3 261.9h0M138.7 259.4h0M151.0 271.1h0M93.1 188.8h0M103.7 189.7h0M118.7 262.1h0M149.9 269.6h0M166.9 270.0h0M171.9 239.5h0M166.1 260.9h0M133.2 271.2h0M175.1 273.0h0M165.4 269.4h0" stroke-opacity="0.17"/>
<path d="M145.1 267.8h0M163.2 246.6h0M148.0 269.9h0M171.1 257.4h0M146.9 263.6h0M164.2 272.7h0M136.5 269.2h0M156.2 245.2h0M150.4 253.1h0M131.7 245.7h0M145.6 272.0h0M176.4 267.2h0M148.1 241.5h0M139.4 272.0h0M134.9 251.3h0M166.5 253.9h0M140.0 273.9h0M142.8 209.2h0M132.1 220.7h0M167.4 262.4h0M136.8 262.3h0M128.8 217.3h0M174.1 239.6h0M162.0 270.2h0M161.5 235.3h0M139.7 251.2h0M144.4 264.8h0M129.9 264.5h0M130.5 217.0h0M174.9 272.3h0M165.8 256.6h0M150.6 271.4h0M159.6 269.0h0M149.9 271.7h0M150.7 270.3h0M156.6 271.2h0M162.0 273.5h0M130.5 268.7h0M162.4 267.7h0M131.4 261.8h0M152.4 266.8h0M135.9 263.9h0M138.2 259.3h0M174.5 273.7h0M125.3 248.5h0M172.7 265.6h0M134.7 260.6h0M134.3 270.6h0M154.1 256.2h0M152.1 271.7h0M145.5 261.2h0M153.8 272.7h0M144.3 240.4h0M159.8 264.2h0M144.6 254.9h0M148.1 265.2h0M144.4 266.6h0M111.3 198.0h0M155.3 272.3h0M111.7 235.7h0M158.9 269.9h0M126.7 235.7h0M159.1 257.2h0M154.4 260.0h0M133.1 235.0h0M162.3 270.6h0M156.3 267.6h0M161.9 269.7h0M184.0 268.2h0M162.4 257.9h0M140.9 252.7h0M147.9 269.9h0M156.1 271.8h0M134.8 247.7h0M172.5 260.8h0M124.6 209.0h0M151.8 265.7h0M163.6 268.4h0M145.3 264.2h0M152.7 243.6h0M121.8 260.6h0M130.1 244.9h0M128.7 253.0h0M179.4 272.6h0M133.1 272.4h0M166.9 248.9h0M158.9 222.2h0M164.6 263.4h0M183.4 261.4h0M157.4 273.4h0M166.2 252.6h0M177.7 272.8h0M159.2 271.4h0M113.7 246.5h0M128.3 262.5h0M127.1 245.2h0M172.2 268.7h0M160.9 259.3h0M147.7 238.9h0M170.8 269.3h0M132.7 224.6h0M141.1 270.0h0M145.7 272.5h0M188.0 266.0h0M152.1 267.7h0M127.9 262.9h0M172.9 250.0h0M166.1 266.6h0M150.1 261.2h0M149.8 265.1h0M167.9 261.7h0M154.9 268.2h0M137.9 245.0h0M153.9 262.8h0M147.4 273.9h0M171.0 254.6h0M155.9 267.7h0M170.3 266.4h0M158.2 271.5h0M129.6 200.2h0M115.6 237.9h0M155.3 268.8h0M169.3 255.2h0M150.3 257.0h0M167.7 253.7h0M168.1 260.6h0M116.3 259.5h0M168.5 270.6h0M163.8 270.6h0M147.4 263.4h0M164.3 261.9h0M126.0 252.9h0M152.4 271.8h0M159.9 267.7h0M172.5 266.2h0M161.0 243.9h0M160.6 267.3h0M187.4 265.3h0M130.0 237.3h0M136.7 262.8h0M163.0 260.6h0M122.8 265.0h0M132.0 253.3h0M145.5 269.5h0M146.2 256.1h0M159.0 270.7h0M141.6 255.7h0M148.0 272.6h0M145.0 271.4h0M126.8 263.4h0M132.9 227.5h0M139.5 252.3h0M129.5 265.6h0M137.7 266.4h0M139.5 256.3h0M155.0 273.0h0M169.3 255.4h0M161.1 250.8h0M147.6 246.7h0M181.8 256.3h0M135.5 266.8h0M113.3 190.4h0M170.0 262.0h0M158.7 273.9h0M136.4 200.3h0M171.9 269.8h0M200.2 256.2h0M149.3 241.0h0M171.6 268.8h0M153.8 268.3h0M139.7 253.1h0M149.7 268.8h0M133.7 259.3h0M158.9 237.6h0M148.4 269.8h0M174.0 268.8h0M107.8 212.1h0M160.6 264.3h0M147.3 263.0h0M205.7 262.2h0M149.9 270.3h0M166.8 271.4h0M161.8 266.6h0M158.3 261.6h0M123.5 187.3h0M155.9 251.0h0M149.0 254.6h0M169.6 273.3h0M177.0 269.0h0M137.3 254.9h0M156.8 272.6h0M110.3 188.3h0M149.9 242.1h0M131.1 250.7h0M155.3 273.3h0M151.1 258.3h0M154.2 266.9h0M159.6 270.6h0M173.3 272.2h0M160.2 270.7h0M130.8 256.9h0M139.8 263.8h0M152.8 252.0h0M157.3 257.9h0M138.1 272.1h0M165.2 270.2h0M122.5 262.8h0M158.6 263.8h0M166.6 272.3h0M119.1 237.4h0M125.4 247.5h0M174.3 267.1h0M157.4 262.6h0M151.3 270.5h0M157.9 273.3h0M142.5 250.3h0M119.3 206.3h0M144.7 269.1h0M155.3 269.4h0M157.7 263.4h0M126.9 257.5h0M178.0 270.2h0M171.2 262.6h0M145.3 244.9h0M91.7 214.1h0M130.8 231.4h0M180.9 266.7h0M131.3 267.3h0M152.8 265.3h0M153.5 259.1h0M169.0 268.2h0M146.7 231.8h0M153.6 262.2h0M160.9 273.2h0M175.9 273.1h0M89.1 197.6h0M188.2 258.0h0M141.2 270.2h0M168.8 246.7h0M146.7 253.3h0M122.3 266.9h0M157.9 258.2h0M150.3 251.6h0M174.1 264.3h0M139.3 234.7h0M146.8 265.3h0M154.0 269.7h0M165.4 218.3h0M159.1 270.4h0M144.9 204.6h0M148.9 254.2h0M165.6 270.7h0M141.1 270.3h0M154.2 270.7h0M131.7 246.2h0M132.5 257.1h0M160.2 271.6h0M170.9 262.5h0M137.9 263.4h0M165.1 262.9h0M142.8 258.5h0M133.5 246.9h0M97.5 236.8h0M145.8 226.4h0M164.2 215.2h0M159.5 272.2h0M194.3 261.9h0M132.2 259.7h0M157.9 256.4h0M170.6 255.8h0M161.1 270.3h0M165.3 246.6h0M140.7 228.3h0M152.3 266.8h0M138.5 248.3h0M140.8 224.5h0M136.6 257.2h0M170.2 267.5h0M100.7 233.2h0M173.8 268.3h0M170.5 273.4h0M165.9 255.3h0M175.6 263.2h0M150.0 259.0h0M163.2 233.1h0M119.3 242.0h0M140.5 260.7h0M160.8 246.6h0M168.0 270.6h0M136.4 266.1h0M185.2 265.7h0M150.8 273.1h0M178.5 270.9h0M82.8 195.4h0M168.5 269.1h0M144.7 253.6h0M148.0 257.4h0M147.0 272.1h0M126.8 249.0h0M163.2 267.4h0M135.7 232.2h0M156.4 271.9h0M154.9 260.9h0M165.8 231.5h0M172.7 265.6h0M144.7 263.1h0M152.7 248.9h0M159.4 266.5h0M149.2 256.0h0M136.2 211.1h0M135.2 212.6h0M147.4 267.6h0M146.3 268.9h0M163.7 272.1h0M109.5 236.6h0M122.9 254.6h0" stroke-opacity="0.17"/>
<path d="M159.3 262.0h0M157.2 273.8h0M141.6 269.4h0M149.1 253.2h0M155.1 273.7h0M163.7 270.7h0M161.3 270.0h0M141.4 252.4h0M144.3 268.2h0M166.4 255.9h0M150.9 270.8h0M190.6 261.4h0M188.4 273.7h0M175.2 253.3h0M140.8 267.0h0M160.0 249.7h0M138.0 274.0h0M142.3 260.3h0M143.7 271.0h0M164.4 263.8h0M109.6 231.8h0M160.4 265.9h0M142.7 254.5h0M135.5 272.8h0M100.0 196.0h0M177.8 271.6h0M151.4 259.2h0M133.3 219.2h0M143.9 273.9h0M148.9 265.7h0M106.2 236.3h0M131.6 216.9h0M138.6 263.2h0M149.7 259.8h0M150.0 256.1h0M162.6 268.7h0M153.8 273.6h0M113.7 206.5h0M169.6 260.8h0M168.0 271.4h0M172.5 255.4h0M130.3 224.3h0M155.0 272.7h0M151.5 267.2h0M172.8 266.0h0M162.4 236.1h0M107.0 208.2h0M142.5 270.6h0M157.4 272.6h0M173.9 247.6h0M174.1 270.7h0M157.6 270.3h0M155.1 267.1h0M117.5 195.7h0M138.4 235.6h0M149.6 258.9h0M132.8 271.1h0M113.7 220.7h0M116.0 256.5h0M167.0 245.1h0M136.1 256.0h0M174.2 252.9h0M145.6 226.8h0M155.8 255.7h0M165.8 273.8h0M196.6 273.9h0M138.6 263.7h0M122.2 265.7h0M160.1 256.8h0M157.3 271.5h0M146.3 267.7h0M156.9 247.0h0M151.3 250.0h0M164.7 251.0h0M144.5 270.6h0M154.7 271.5h0M153.9 247.3h0M153.4 271.1h0M181.6 249.8h0M158.0 268.1h0M121.9 264.0h0M184.4 271.3h0M155.8 262.8h0M177.0 270.8h0M125.3 201.5h0M153.5 270.2h0M142.5 243.0h0M139.4 268.6h0M158.5 249.5h0M147.5 270.2h0M134.2 257.9h0M137.7 248.3h0M146.0 272.8h0M128.8 241.4h0M196.5 250.3h0M154.2 223.2h0M169.9 270.8h0M145.7 264.9h0M143.8 268.4h0M173.0 273.3h0M160.3 258.6h0M129.6 260.4h0M133.1 225.9h0M172.9 259.2h0M152.8 270.3h0M174.5 266.3h0M174.5 273.5h0M169.6 273.1h0M164.4 260.3h0M167.2 262.1h0M175.3 272.2h0M167.5 261.5h0M152.2 249.8h0M158.4 267.5h0M174.1 255.2h0M132.1 229.9h0M142.7 266.3h0M149.7 248.2h0M150.2 256.4h0M147.4 267.7h0M157.5 266.0h0M137.8 251.3h0M142.6 256.9h0M150.8 230.4h0M116.4 259.0h0M111.8 197.4h0M157.8 269.9h0M170.5 233.1h0M165.6 261.9h0M172.0 250.8h0M127.2 257.5h0M175.8 261.7h0M101.5 211.4h0M148.8 268.0h0M154.9 261.9h0M138.5 233.5h0M163.7 271.8h0M137.9 267.6h0M195.8 270.4h0M138.6 255.5h0M148.0 249.1h0M125.7 265.3h0M157.6 264.9h0M160.9 271.8h0M165.9 269.5h0M147.8 264.5h0M144.7 256.6h0M160.4 261.0h0M151.9 269.8h0M153.0 267.2h0M157.6 266.4h0M156.1 240.8h0M127.0 256.2h0M155.9 248.8h0M143.6 245.2h0M159.1 272.5h0M122.5 218.6h0M142.4 254.7h0M158.1 271.1h0M154.7 265.4h0M153.4 259.6h0M150.7 262.6h0M161.7 263.6h0M161.0 271.8h0M188.6 262.3h0M164.5 267.1h0M167.4 268.6h0M146.4 273.9h0M152.1 268.0h0M138.4 272.4h0M172.7 266.8h0M166.8 265.3h0M130.2 213.5h0M132.7 251.6h0M162.5 273.8h0M148.9 242.5h0M143.5 272.9h0M140.0 254.5h0M129.2 265.4h0M168.1 273.7h0M138.6 273.1h0M133.5 268.2h0M141.6 260.3h0M175.9 244.3h0M159.7 267.9h0M140.6 247.7h0M153.1 265.0h0M145.9 268.8h0M143.0 268.4h0M166.4 253.7h0M162.4 271.3h0M135.0 272.7h0M159.4 270.9h0M127.0 264.1h0M149.1 268.0h0M151.3 246.6h0M161.7 236.9h0M155.0 257.3h0M169.2 261.6h0M142.3 242.9h0M143.6 268.9h0M152.9 245.6h0M142.8 267.7h0M164.7 266.3h0M165.6 271.7h0M178.3 260.2h0M208.9 254.6h0M141.3 230.6h0M169.1 268.3h0M125.8 230.7h0M169.0 273.0h0M153.7 266.6h0M142.5 268.9h0M171.9 263.6h0M152.2 255.8h0M106.6 185.3h0M161.7 273.3h0M186.7 247.5h0M164.9 271.6h0M144.6 271.1h0M143.7 267.0h0M155.7 264.4h0M144.5 263.3h0M106.5 248.5h0M141.9 263.2h0M162.4 267.0h0M124.9 258.8h0M128.7 251.5h0M135.8 254.7h0M156.2 249.9h0M156.6 268.3h0M161.2 248.8h0M174.0 264.7h0M111.8 243.9h0M190.4 266.8h0M163.0 266.4h0M147.6 272.2h0M150.8 263.6h0M154.4 257.5h0M158.5 223.7h0M193.3 262.9h0M102.7 207.0h0M129.2 223.9h0M114.5 259.2h0M161.4 266.9h0M164.8 267.0h0M161.4 271.0h0M157.7 268.7h0M168.3 271.5h0M147.0 268.7h0M96.5 194.7h0M153.4 245.9h0M136.0 270.8h0M151.9 273.2h0M155.9 250.0h0M169.3 265.8h0M195.1 265.0h0M193.1 244.4h0M124.2 251.8h0M128.4 216.8h0M157.5 267.9h0M135.7 269.0h0M152.0 251.7h0M148.8 263.9h0M94.1 208.9h0M155.4 258.3h0M143.8 257.1h0M171.2 259.5h0M166.3 266.4h0M144.5 267.8h0M156.1 258.9h0M162.8 235.6h0M138.7 252.1h0M163.8 269.1h0M150.0 251.6h0M182.8 256.2h0M144.0 266.7h0M160.0 246.8h0M176.8 265.8h0M166.7 260.1h0M160.9 251.1h0M197.5 232.8h0M141.9 273.3h0" stroke-opacity="0.17"/>
<path d="M146.6 263.4h0M156.2 238.3h0M163.7 271.3h0M137.6 237.3h0M138.9 254.1h0M131.4 217.2h0M156.2 272.5h0M132.6 272.9h0M166.6 272.6h0M200.1 266.9h0M152.4 272.7h0M124.6 228.7h0M130.9 251.3h0M165.0 258.4h0M188.0 271.9h0M170.6 262.4h0M153.0 266.5h0M141.6 265.3h0M146.7 266.3h0M139.8 270.1h0M117.0 249.1h0M112.5 230.3h0M192.3 267.4h0M149.4 236.1h0M141.9 271.6h0M139.9 267.8h0M155.1 260.8h0M159.4 269.3h0M170.2 271.5h0M141.0 265.2h0M140.4 265.1h0M137.8 262.2h0M164.4 223.6h0M146.1 255.7h0M127.4 226.5h0M128.1 240.1h0M181.0 269.3h0M134.9 248.1h0M136.8 273.8h0M131.4 272.3h0M145.1 251.1h0M171.7 270.3h0M119.9 249.7h0M106.2 215.9h0M124.0 244.1h0M140.7 248.4h0M171.4 270.4h0M135.5 268.8h0M176.2 264.2h0M150.0 273.1h0M160.7 247.1h0M145.8 270.2h0M144.6 231.4h0M151.9 262.6h0M154.8 222.2h0M157.0 265.6h0M144.9 271.1h0M161.7 267.5h0M139.4 271.1h0M129.3 249.0h0M150.6 269.3h0M157.8 270.0h0M145.1 267.5h0M143.6 268.1h0M132.6 269.9h0M132.8 264.7h0M132.7 273.0h0M149.2 271.7h0M95.8 199.0h0M141.2 241.7h0M172.9 267.3h0M167.7 258.0h0M156.0 240.9h0M166.1 272.2h0M197.0 248.3h0M140.7 272.3h0M152.2 260.6h0M145.0 265.3h0M128.6 249.3h0M155.0 260.1h0M161.4 269.5h0M161.2 271.2h0M148.3 251.2h0M160.8 273.8h0M179.2 269.4h0M148.2 272.8h0M159.0 241.9h0M171.1 254.7h0M145.0 255.5h0M160.9 248.9h0M155.0 273.1h0M156.8 273.3h0M146.1 271.8h0M130.3 255.6h0M133.2 259.7h0M134.1 267.3h0M143.7 262.0h0M163.9 256.7h0M132.7 256.8h0M155.0 271.2h0M163.9 244.0h0M146.8 268.0h0M155.0 262.8h0M162.8 267.4h0M146.6 267.3h0M155.3 273.4h0M163.5 246.5h0M138.8 265.5h0M144.4 236.2h0M137.3 252.2h0M184.8 263.3h0M173.8 238.9h0M149.9 270.5h0M138.6 233.7h0M184.9 264.6h0M180.8 273.4h0M150.6 266.7h0M133.7 257.3h0M166.3 271.6h0M168.8 267.4h0M112.8 252.2h0M128.8 274.0h0M132.0 246.8h0M168.8 258.7h0M174.9 272.8h0M148.6 269.8h0M157.2 273.0h0M153.7 245.3h0M148.2 272.0h0M161.7 270.9h0M139.4 260.2h0M145.9 270.0h0M106.7 184.3h0M156.0 266.2h0M138.1 265.3h0M145.1 243.7h0M145.7 202.6h0M165.0 272.7h0M138.2 232.5h0M156.8 273.1h0M171.0 270.6h0M152.5 263.3h0M157.4 272.0h0M165.9 266.4h0M170.8 264.7h0M168.6 271.6h0M140.3 260.7h0M144.7 264.3h0M147.7 260.7h0M159.3 254.7h0M138.9 260.8h0M160.2 257.3h0M173.7 269.1h0M140.9 266.4h0M139.2 260.6h0M148.5 236.1h0M134.0 250.6h0M184.6 253.4h0M182.4 254.1h0M108.0 228.5h0M177.8 261.8h0M155.1 271.9h0M176.4 263.0h0M167.9 262.0h0M163.7 244.4h0M116.7 224.7h0M139.2 272.1h0M141.4 270.5h0M168.2 273.1h0M179.3 269.8h0M168.9 242.9h0M155.8 236.5h0M187.8 260.5h0M157.3 227.2h0M158.3 251.4h0M156.9 271.8h0M133.2 227.3h0M132.9 227.7h0M204.1 269.4h0M143.3 260.3h0M134.8 237.8h0M151.8 266.7h0M143.3 244.7h0M148.6 257.5h0M148.6 253.9h0M130.5 253.3h0M168.3 254.4h0M133.5 273.0h0M171.6 241.0h0M161.2 274.0h0M135.2 235.8h0M154.9 271.4h0M165.5 230.9h0M151.7 269.7h0M150.9 231.5h0M160.6 271.6h0M135.3 250.6h0M137.4 261.1h0M133.6 254.7h0M171.2 269.6h0M173.7 267.5h0M109.4 220.2h0M129.2 230.3h0M141.7 239.8h0M147.5 258.5h0M127.7 269.2h0M154.7 273.8h0M157.3 251.0h0M160.6 257.3h0M132.0 261.4h0M189.2 265.0h0M147.7 258.8h0M158.2 271.3h0M163.8 268.4h0M148.6 270.4h0M152.4 270.8h0M158.7 273.6h0M167.6 256.3h0M142.4 265.7h0M147.9 263.8h0M121.7 259.7h0M149.3 267.4h0M153.4 269.4h0M151.3 253.4h0M150.4 227.6h0M156.2 267.8h0M126.0 270.0h0M156.4 273.3h0M175.7 269.8h0M111.9 238.9h0M146.7 263.8h0M172.1 269.3h0M155.4 251.3h0M164.3 273.8h0M149.7 274.0h0M147.7 224.7h0M159.3 210.1h0M156.9 265.3h0M166.9 272.6h0M185.6 269.1h0M159.2 212.7h0M149.0 273.6h0M175.0 267.6h0M204.8 265.2h0M120.6 260.0h0M166.2 265.1h0M161.1 272.1h0M153.5 273.6h0M130.2 255.5h0M163.8 255.4h0M126.3 255.0h0M176.6 261.6h0M149.5 221.3h0M129.8 243.6h0M163.0 266.6h0M162.4 273.3h0M155.0 273.9h0M110.0 245.5h0M179.3 265.6h0M133.5 270.7h0M199.1 251.1h0M135.7 262.5h0M148.4 271.5h0M162.3 267.7h0M157.4 267.5h0M136.8 272.2h0M172.0 255.9h0M187.9 267.8h0M139.3 271.1h0M163.4 213.1h0M171.7 250.2h0M147.8 248.7h0M139.0 219.4h0M174.1 245.8h0M182.3 272.6h0M125.7 254.9h0M158.0 244.6h0M147.4 263.0h0M138.2 269.7h0M129.3 228.2h0M147.3 270.3h0M136.3 243.3h0M156.7 266.2h0M143.5 267.0h0M122.9 249.6h0M124.5 251.3h0M120.9 184.0h0M106.4 185.6h0M167.4 272.2h0M127.1 243.1h0M185.4 237.8h0M160.8 272.0h0M154.3 266.2h0M154.6 262.9h0M180.9 268.1h0M147.7 239.6h0M186.2 269.5h0M139.3 262.2h0M138.8 259.6h0M178.1 260.6h0M149.3 272.5h0M104.5 238.2h0M149.9 273.1h0M151.3 269.0h0M192.3 255.3h0M154.5 272.7h0M119.5 249.4h0M159.6 271.2h0M151.3 273.2h0M123.0 254.3h0M135.2 272.9h0M146.6 262.7h0M147.5 248.1h0M146.3 258.2h0M145.4 245.0h0M144.3 264.4h0M178.5 263.6h0" stroke-opacity="0.17"/>
<path d="M133.8 244.5h0M153.0 238.7h0M160.2 236.3h0M146.4 245.9h0M144.5 259.3h0M173.8 242.0h0M177.6 233.0h0M141.0 243.2h0M153.1 248.2h0M166.0 242.5h0M147.2 242.1h0M137.6 254.9h0M173.6 246.6h0M140.3 244.5h0M151.5 251.2h0M124.3 245.5h0M176.7 242.0h0M155.6 238.5h0M157.0 243.5h0M151.0 251.6h0M130.5 258.4h0M141.1 242.5h0M167.4 240.9h0M143.7 248.7h0M145.4 236.6h0M151.3 228.5h0M133.2 257.7h0M172.1 229.8h0M157.0 246.8h0M150.7 249.4h0M158.8 228.2h0M152.4 249.7h0M150.7 246.5h0M146.8 237.4h0M160.1 220.6h0M164.5 236.7h0M147.9 249.7h0M151.0 232.3h0M173.4 234.8h0M149.0 251.6h0M156.7 235.0h0M158.4 250.2h0M149.1 244.4h0M148.4 246.5h0M155.9 250.9h0M157.7 239.6h0M155.1 239.6h0M152.7 234.2h0M132.5 232.4h0M148.7 237.6h0M155.3 236.4h0M152.2 249.0h0M149.8 238.3h0M170.7 240.4h0M122.9 263.9h0M182.7 232.6h0M154.2 237.3h0M118.4 243.1h0M182.1 235.0h0M157.0 237.8h0M136.2 251.8h0M154.7 253.0h0M127.4 242.8h0M161.7 241.0h0M155.4 244.7h0M152.2 252.5h0M158.1 231.4h0M141.2 245.0h0M131.9 240.0h0M152.2 235.9h0M180.6 228.7h0M139.1 267.8h0" stroke-opacity="0.19"/>
<path d="M180.5 235.8h0M147.2 238.4h0M156.0 233.0h0M155.5 241.2h0M159.8 239.9h0M164.8 258.7h0M175.1 243.3h0M169.2 227.4h0M132.0 250.1h0M171.1 231.5h0M149.3 254.6h0M135.4 257.5h0M154.8 253.8h0M155.7 242.2h0M166.3 234.9h0M178.4 250.8h0M125.7 242.1h0M183.7 239.7h0M136.2 256.4h0M169.7 242.4h0M141.5 244.8h0M165.3 242.5h0M149.7 248.7h0M152.0 231.7h0M148.0 234.3h0M164.8 251.9h0M150.3 245.0h0M144.3 249.2h0M125.4 245.0h0M131.6 231.0h0M188.8 249.7h0M156.2 241.6h0M141.6 246.9h0M154.9 247.5h0M130.5 240.9h0M163.3 229.3h0M167.6 235.7h0M133.8 232.8h0M162.0 258.5h0M135.9 228.3h0M151.8 254.0h0M154.4 240.4h0M159.4 237.4h0M128.8 250.0h0M145.4 241.7h0M155.8 251.5h0M148.4 248.8h0M135.2 231.7h0M166.9 239.9h0M156.2 238.4h0M152.9 249.0h0M140.6 242.9h0M152.5 256.4h0M165.2 260.9h0M177.9 238.7h0M129.9 240.3h0M132.8 249.8h0M158.1 239.9h0M160.2 251.6h0M161.5 254.9h0M141.8 235.3h0M184.7 249.3h0M159.0 236.0h0M157.8 224.7h0M173.1 246.9h0M151.3 250.9h0M141.5 249.6h0M126.2 253.1h0M153.5 241.2h0M172.7 227.6h0M169.3 234.8h0M144.1 254.3h0M143.8 251.2h0M165.1 243.8h0M173.1 240.3h0M149.4 238.6h0M118.6 250.8h0M153.0 239.8h0" stroke-opacity="0.19"/>
<path d="M153.5 253.2h0M145.1 232.5h0M164.9 248.3h0M153.2 244.4h0M137.8 235.0h0M130.7 242.0h0M147.4 254.1h0M168.4 225.5h0M168.2 229.9h0M155.4 238.2h0M140.6 254.9h0M165.9 232.0h0M179.4 227.6h0M124.3 231.3h0M187.1 232.3h0M144.4 235.8h0M151.8 244.7h0M177.0 242.9h0M168.8 234.3h0M155.7 237.2h0M165.5 242.0h0M162.5 236.7h0M147.8 235.3h0M137.8 254.1h0M171.2 242.6h0M143.2 247.3h0M173.0 246.1h0M163.2 238.8h0M156.1 245.1h0M157.6 232.5h0M136.9 258.8h0M144.9 233.1h0M146.1 237.6h0M125.2 259.0h0M132.1 248.4h0M189.0 219.7h0M160.4 242.0h0M166.3 241.3h0M156.3 232.7h0M139.2 244.7h0M147.9 247.6h0M153.0 239.6h0M145.3 246.6h0M159.8 248.9h0M161.8 232.6h0M146.7 235.5h0M152.4 233.9h0M161.9 255.8h0M145.7 246.2h0M128.5 227.6h0M144.2 255.0h0M159.0 237.1h0M140.5 244.5h0M155.8 248.6h0M151.6 238.2h0M156.3 236.1h0M136.6 253.3h0M149.9 246.3h0M159.3 245.5h0M146.4 238.9h0M122.1 251.2h0M156.5 249.2h0M140.5 227.7h0M127.2 239.1h0M159.0 242.0h0M162.5 228.3h0M161.0 234.6h0M125.3 247.6h0M166.6 242.9h0M148.7 253.2h0M138.6 255.7h0M159.2 245.2h0M137.1 229.9h0M155.2 246.3h0M160.5 238.0h0M142.7 225.9h0M160.2 233.2h0M132.4 249.9h0M136.8 265.7h0M157.7 239.3h0M131.0 250.5h0M136.5 241.9h0M165.7 244.2h0M154.1 253.4h0M140.0 235.0h0M155.4 254.3h0M136.6 247.6h0M159.9 237.6h0M146.4 234.9h0M158.8 262.7h0M161.3 233.7h0M167.4 240.9h0M196.2 230.3h0" stroke-opacity="0.19"/>
<path d="M167.7 234.0h0M120.6 253.2h0M126.1 266.2h0M158.8 260.9h0M148.5 253.4h0M163.2 250.1h0M152.5 244.7h0M162.5 238.8h0M152.2 239.3h0M137.0 250.1h0M146.4 241.1h0M150.3 245.5h0M167.4 250.5h0M149.3 252.0h0M168.2 240.1h0M132.6 244.8h0M161.3 242.8h0M155.4 241.5h0M169.0 239.7h0M159.0 250.1h0M162.6 248.9h0M210.9 239.1h0M124.7 242.8h0M125.0 245.6h0M156.0 254.2h0M136.5 247.8h0M148.8 224.9h0M169.9 236.1h0M176.7 237.1h0M164.9 246.4h0M162.1 241.2h0M155.2 231.6h0M142.7 253.8h0M144.2 241.4h0M182.9 256.6h0M177.9 239.2h0M144.3 237.0h0M165.8 226.9h0M147.5 260.6h0M154.0 239.9h0M167.7 223.9h0M156.5 239.5h0M141.7 241.8h0M176.4 237.9h0M123.3 256.8h0M165.8 233.0h0M155.7 254.1h0M143.8 235.3h0M163.2 248.2h0M149.6 250.4h0M157.8 247.2h0M124.7 248.8h0M136.4 248.3h0M163.5 241.8h0M171.5 234.0h0M165.5 239.1h0M155.0 252.4h0M174.8 234.4h0M120.2 232.4h0M136.4 233.9h0M162.8 249.4h0M165.6 237.2h0M145.7 259.2h0M151.3 262.2h0M172.5 239.4h0M151.0 227.7h0M173.6 237.2h0M137.7 240.2h0M137.5 234.0h0M140.9 248.7h0M181.4 233.8h0M173.0 240.6h0M158.7 257.5h0M149.7 250.7h0M156.0 237.5h0M171.6 221.4h0M164.5 236.8h0M161.7 250.1h0M161.0 244.6h0M144.8 256.1h0M171.6 236.6h0M160.3 255.1h0M158.2 230.1h0M150.5 250.0h0M144.7 244.7h0M144.9 249.1h0M129.6 242.8h0M160.3 245.5h0M171.5 231.5h0M157.8 228.2h0M139.2 223.9h0M156.6 233.8h0M161.4 246.9h0M152.4 248.7h0M149.2 243.0h0M126.3 225.5h0M168.2 248.2h0" stroke-opacity="0.19"/>
<path d="M169.4 239.2h0M153.5 241.1h0M133.9 266.1h0M176.1 246.1h0M141.3 234.1h0M153.6 237.7h0M144.9 243.8h0M152.2 245.6h0M152.4 250.0h0M140.6 246.3h0M137.4 247.1h0M147.3 237.7h0M187.4 228.5h0M161.9 234.6h0M171.6 239.9h0M149.9 234.3h0M146.8 251.4h0M152.0 245.3h0M184.2 248.0h0M137.9 244.5h0M180.4 237.9h0M166.3 230.8h0M120.8 243.8h0M164.7 233.2h0M147.9 241.9h0M137.4 244.4h0M136.4 252.2h0M120.2 252.5h0M169.6 246.2h0M148.2 256.7h0M174.2 253.5h0M160.1 250.4h0M147.2 236.2h0M161.8 239.9h0M144.9 242.2h0M175.2 251.3h0M137.0 248.9h0M184.5 227.4h0M141.9 241.9h0M154.6 242.6h0M160.9 248.9h0M144.7 242.7h0M147.9 251.2h0M163.1 250.3h0M152.8 241.0h0M134.0 237.8h0M138.6 227.8h0M146.1 259.7h0M160.9 243.4h0M166.2 240.6h0M126.0 245.8h0M130.0 250.3h0M157.9 237.5h0M142.1 240.9h0M169.0 225.0h0M181.5 249.6h0M143.7 238.3h0M152.0 236.8h0M157.3 250.6h0M151.5 249.7h0M130.5 249.0h0M172.4 234.0h0M160.6 258.9h0M177.0 245.3h0M158.9 240.1h0M166.2 239.1h0M134.5 243.6h0M114.5 254.0h0M135.0 247.2h0M146.4 245.1h0M141.7 260.8h0M147.1 252.0h0M160.3 238.8h0M175.5 239.1h0M149.5 250.3h0M154.0 229.6h0M133.7 248.9h0M139.4 241.6h0M169.0 232.7h0M150.0 237.7h0M164.9 241.2h0M123.8 241.5h0M145.3 247.4h0M164.8 244.1h0M125.8 239.5h0M148.4 248.7h0M144.3 233.4h0M144.3 231.8h0M138.5 261.8h0M147.6 247.7h0M174.4 235.8h0" stroke-opacity="0.19"/>
<path d="M156.4 233.2h0M126.9 258.7h0M142.1 243.6h0M133.2 253.4h0M146.0 249.2h0M165.2 249.5h0M145.2 230.7h0M173.7 234.7h0M149.4 241.7h0M152.8 240.4h0M159.3 235.5h0M153.4 240.8h0M176.1 232.2h0M170.3 257.3h0M146.8 256.5h0M150.5 245.4h0M183.4 244.9h0M134.1 242.7h0M148.1 246.6h0M120.6 243.3h0M158.5 234.2h0M158.7 243.2h0M139.9 241.3h0M135.6 244.3h0M150.1 232.2h0M145.2 245.1h0M150.4 238.8h0M157.5 243.5h0M173.8 240.3h0M181.3 238.5h0M145.8 252.9h0M128.2 240.2h0M161.1 232.0h0M192.2 230.1h0M154.6 248.4h0M148.6 243.8h0M150.2 230.6h0M154.5 247.3h0M135.6 245.3h0M150.3 235.5h0M144.6 241.1h0M150.8 240.3h0M110.8 249.0h0M151.0 244.3h0M127.5 254.1h0M160.9 248.0h0M144.0 233.6h0M164.2 223.0h0M165.7 219.4h0M142.3 236.9h0M148.4 241.9h0M123.8 243.7h0M145.1 246.3h0M179.7 241.2h0M162.1 232.0h0M137.6 254.6h0M151.5 231.5h0M119.2 254.5h0M179.7 254.2h0M148.3 240.9h0M150.9 255.9h0M171.5 244.1h0M175.0 235.4h0M146.6 238.7h0M136.6 235.6h0M134.2 228.6h0M181.2 247.0h0M152.5 244.6h0M165.8 247.6h0M167.2 235.1h0M154.2 234.9h0M149.2 244.2h0M116.5 234.5h0M140.4 247.9h0M144.2 241.3h0M181.6 247.6h0M142.7 253.8h0M163.4 248.2h0M127.3 240.3h0" stroke-opacity="0.19"/>
<path d="M146.5 250.2h0M162.7 247.1h0M132.0 241.4h0M161.5 243.8h0M160.5 246.4h0M170.3 237.8h0M178.4 234.4h0M124.1 259.9h0M139.8 256.3h0M145.8 250.8h0M153.0 241.6h0M145.5 244.3h0M134.0 234.3h0M135.4 261.7h0M159.4 256.6h0M121.0 248.0h0M145.4 248.9h0M118.1 252.9h0M169.8 225.5h0M154.2 242.5h0M151.6 250.2h0M160.1 241.9h0M146.7 249.0h0M153.9 254.9h0M148.9 248.6h0M212.3 227.1h0M142.4 235.7h0M146.9 267.3h0M123.1 248.3h0M143.7 230.2h0M160.1 247.7h0M157.1 240.3h0M171.6 242.1h0M170.0 232.5h0M120.2 252.5h0M168.3 233.5h0M153.3 247.0h0M162.6 230.2h0M176.2 231.3h0M142.2 242.9h0M151.8 240.5h0M150.2 257.3h0M139.8 249.2h0M159.7 237.6h0M166.8 232.5h0M165.5 239.7h0M158.4 235.0h0M131.3 236.2h0M122.7 227.8h0M151.1 245.8h0M160.5 246.9h0M151.8 229.9h0M145.4 236.8h0M144.5 247.2h0M144.3 229.7h0M135.2 239.8h0M151.9 232.9h0M134.7 228.7h0M144.6 244.8h0M144.9 243.0h0M160.2 234.5h0M133.3 249.7h0M142.8 237.4h0M124.4 246.0h0M138.2 253.0h0M149.8 225.2h0M141.5 246.2h0M177.9 250.4h0M178.5 246.9h0M124.3 253.4h0M154.2 232.2h0M160.5 245.9h0M142.6 249.3h0M109.1 250.3h0M159.4 246.1h0M128.8 246.3h0M165.9 240.0h0M162.0 233.5h0M145.3 248.2h0" stroke-opacity="0.19"/>
<path d="M164.4 240.7h0M155.2 243.5h0M179.5 233.4h0M147.8 243.2h0M156.3 236.4h0M143.3 254.7h0M141.3 242.8h0M160.7 235.8h0M130.1 241.7h0M129.1 243.1h0M157.5 256.6h0M145.2 240.6h0M153.1 243.2h0M120.2 248.0h0M159.3 228.8h0M148.6 241.7h0M164.9 239.0h0M159.6 243.1h0M112.5 237.8h0M144.4 237.6h0M159.2 231.8h0M134.8 244.8h0M167.3 246.6h0M135.9 240.3h0M143.5 229.6h0M175.8 237.4h0M155.7 247.7h0M176.2 244.9h0M132.7 252.9h0M157.5 263.5h0M174.6 229.2h0M142.7 260.3h0M175.1 236.4h0M144.3 248.8h0M193.6 238.8h0M140.1 252.2h0M140.9 235.4h0M173.6 243.5h0M144.9 240.3h0M175.8 242.3h0M165.4 237.4h0M180.5 239.3h0M158.3 231.3h0M155.6 238.8h0M122.0 252.1h0M169.1 242.3h0M169.1 254.4h0M145.4 242.3h0M172.1 241.1h0M151.5 244.6h0M154.0 240.3h0M165.8 249.2h0M177.8 242.6h0M147.8 237.2h0M171.5 246.3h0M151.1 250.7h0M166.8 233.9h0M156.8 262.6h0M144.9 229.9h0M134.6 243.7h0M141.7 228.1h0M169.5 234.7h0M171.8 240.9h0M140.0 245.4h0M150.7 239.0h0M143.6 264.4h0M118.2 233.9h0M175.3 225.0h0M161.4 242.3h0M144.0 248.8h0M150.7 235.8h0M199.1 242.4h0M112.9 259.3h0M168.7 244.6h0M171.0 247.7h0M157.0 237.7h0M153.2 251.4h0M150.2 239.4h0" stroke-opacity="0.19"/>
<path d="M175.8 225.9h0M128.9 257.4h0M140.4 241.0h0M149.7 243.5h0M138.0 245.3h0M134.6 236.8h0M176.1 223.2h0M148.8 234.3h0M168.4 232.5h0M149.8 233.5h0M186.8 231.9h0M154.4 230.9h0M105.2 240.1h0M172.8 239.4h0M158.8 247.2h0M142.1 243.3h0M171.7 231.7h0M140.5 243.8h0M172.6 238.4h0M125.8 236.6h0M154.7 239.4h0M160.0 237.2h0M125.9 244.0h0M157.5 243.4h0M179.6 230.7h0M148.2 237.5h0M147.3 240.7h0M170.3 249.8h0M170.1 240.7h0M120.5 244.8h0M144.6 245.7h0M148.8 239.5h0M175.5 222.6h0M148.1 243.0h0M141.9 244.6h0M131.7 242.0h0M157.6 248.8h0M182.4 230.8h0M156.0 229.3h0M139.9 253.8h0M133.0 247.8h0M146.9 247.3h0M160.5 238.2h0M154.7 233.9h0M173.5 242.5h0M163.4 238.7h0M170.1 237.7h0M163.8 230.8h0M138.7 251.6h0M162.5 236.4h0M159.0 238.8h0M136.4 231.6h0M172.5 232.0h0M142.7 235.1h0M165.4 234.0h0M133.2 249.6h0M149.9 248.2h0M173.4 255.8h0M154.8 236.5h0M163.1 227.3h0M180.6 235.4h0M141.2 243.4h0M149.3 232.2h0M155.2 244.7h0M154.6 240.8h0M164.7 254.9h0M146.3 240.6h0M153.5 267.1h0M164.5 242.2h0M139.8 252.2h0M168.9 246.0h0M136.0 247.6h0M155.7 242.0h0M162.2 244.7h0M133.7 234.5h0M159.8 233.0h0M138.9 234.8h0M117.5 245.1h0M156.7 253.3h0M163.3 229.6h0M139.1 229.1h0M144.0 237.7h0M131.7 243.7h0M136.3 254.5h0M134.0 246.2h0" stroke-opacity="0.19"/>
<path d="M158.7 243.8h0M150.8 239.1h0M151.3 260.4h0M144.2 256.5h0M136.7 250.7h0M149.0 232.2h0M165.0 244.2h0M161.8 235.2h0M179.8 221.4h0M149.0 234.3h0M143.7 253.6h0M157.5 243.8h0M149.1 248.0h0M131.7 257.6h0M151.0 255.2h0M153.4 241.4h0M161.5 251.6h0M154.8 243.0h0M169.6 246.1h0M176.7 225.8h0M104.5 241.7h0M146.4 259.0h0M120.9 236.0h0M147.5 233.3h0M167.9 241.4h0M132.8 233.1h0M185.8 233.7h0M158.4 237.1h0M120.6 252.9h0M170.0 247.1h0M149.6 241.7h0M127.1 237.1h0M168.6 227.4h0M173.0 223.6h0M143.9 240.2h0M141.0 249.7h0M154.0 228.8h0M152.8 250.4h0M158.9 243.5h0M151.9 235.4h0M142.8 241.8h0M175.7 225.9h0M161.5 251.8h0M144.2 256.4h0M143.3 255.9h0M156.0 240.0h0M149.5 229.9h0M142.2 253.0h0M152.0 244.2h0M147.9 237.5h0M155.8 227.5h0M136.8 254.2h0M149.4 244.0h0M157.4 249.7h0M139.5 263.7h0M128.9 246.8h0M149.6 255.3h0M165.0 240.4h0M159.8 241.9h0M151.6 260.2h0M185.3 237.6h0M137.7 245.4h0M138.7 247.5h0M152.8 236.6h0M131.1 241.4h0M142.8 240.1h0M165.3 247.1h0M147.2 253.6h0" stroke-opacity="0.19"/>
<path d="M157.1 245.8h0M130.9 245.1h0M173.2 230.4h0M151.5 250.2h0M129.0 251.1h0M163.8 241.6h0M158.0 238.0h0M135.2 265.0h0M161.4 244.4h0M153.8 260.9h0M144.6 229.6h0M144.3 242.8h0M136.0 246.4h0M153.2 244.7h0M129.0 253.2h0M173.5 240.6h0M148.1 236.3h0M166.5 250.7h0M148.9 239.6h0M162.7 250.3h0M167.1 246.5h0M130.6 251.7h0M144.0 248.9h0M145.5 236.0h0M131.7 243.7h0M160.0 234.7h0M150.0 229.6h0M163.1 243.6h0M164.6 227.8h0M190.7 229.1h0M161.8 240.0h0M147.6 243.5h0M151.0 244.4h0M116.0 250.6h0M124.1 253.5h0M179.2 237.6h0M149.9 244.7h0M144.4 248.1h0M143.1 236.5h0M152.5 236.1h0M156.1 245.1h0M126.1 235.2h0M171.7 226.6h0M165.3 242.1h0M138.0 248.6h0M168.9 231.8h0M164.9 249.5h0M152.3 254.2h0M136.0 263.7h0M131.1 228.9h0M157.9 243.3h0M146.4 242.2h0M170.0 245.1h0M138.0 261.1h0M155.7 261.8h0M148.2 243.0h0M127.2 251.5h0M151.7 236.4h0M182.4 227.0h0M159.3 254.7h0M167.3 236.7h0M150.8 236.7h0M126.9 250.6h0M172.2 227.0h0M156.8 250.1h0M143.3 238.5h0M151.7 224.9h0M138.9 256.2h0M184.8 234.7h0M162.7 223.4h0M154.3 249.9h0M144.6 243.9h0M130.3 258.3h0M132.8 243.3h0M170.9 242.4h0M152.2 248.0h0M142.8 242.6h0M140.7 246.6h0M161.7 227.4h0M170.3 228.6h0M149.3 255.4h0M152.3 257.0h0M142.1 244.2h0M134.5 252.1h0M141.3 247.6h0M164.5 234.8h0M155.4 237.8h0M168.1 230.6h0M144.4 247.3h0M149.6 248.1h0M148.2 253.1h0M158.0 244.3h0M154.6 249.0h0M156.1 240.6h0M158.9 241.2h0M144.1 256.8h0M157.7 239.3h0" stroke-opacity="0.19"/>
<path d="M154.9 249.2h0M150.6 240.1h0M139.2 246.7h0M173.7 243.5h0M159.1 239.1h0M131.6 242.5h0M155.0 257.1h0M128.1 246.0h0M140.7 249.9h0M144.8 231.0h0M141.7 237.8h0M170.5 234.7h0M124.8 243.3h0M137.6 245.0h0M126.5 240.0h0M140.4 246.4h0M127.4 254.5h0M157.0 233.9h0M150.6 248.8h0M147.6 261.7h0M167.4 234.7h0M163.0 239.2h0M149.6 250.4h0M151.7 241.3h0M182.3 238.9h0M140.4 244.7h0M141.5 243.8h0M170.6 233.3h0M146.1 240.5h0M156.7 238.1h0M122.4 239.4h0M159.5 231.2h0M149.8 235.9h0M127.8 249.8h0M161.7 242.5h0M128.4 247.6h0M156.2 237.7h0M134.6 234.7h0M154.8 236.7h0M153.9 233.4h0M150.2 253.8h0M144.8 247.5h0M184.7 249.2h0M150.6 251.9h0M146.2 251.4h0M177.3 244.7h0M148.3 241.9h0M147.7 234.4h0M135.2 244.2h0M136.3 257.8h0M135.4 259.1h0M139.3 246.8h0M157.4 248.2h0M159.6 228.7h0M154.3 249.5h0M165.2 245.1h0M172.0 242.4h0M195.3 248.0h0M134.5 247.8h0M147.9 246.7h0M146.5 244.2h0M135.7 253.2h0M151.4 232.6h0M137.3 241.2h0M140.6 250.1h0M177.7 233.7h0M127.0 255.2h0M146.3 249.9h0M157.8 241.2h0M169.7 255.1h0M135.8 245.0h0M139.5 232.5h0M136.6 235.7h0M160.5 239.9h0M141.1 246.1h0M148.7 247.3h0M147.5 230.5h0M161.0 226.3h0" stroke-opacity="0.19"/>
<path d="M127.4 253.0h0M168.5 257.8h0M167.2 258.8h0M113.4 209.9h0M125.4 194.1h0M146.3 256.8h0M120.9 253.9h0M161.4 224.4h0M156.4 259.6h0M157.2 256.1h0M127.4 228.1h0M145.8 259.3h0M128.3 243.3h0M169.2 238.6h0M91.4 186.8h0M123.9 240.0h0M128.4 220.8h0M168.2 241.5h0M146.1 239.0h0M118.9 234.4h0M143.0 251.6h0M159.1 257.5h0M119.1 220.9h0M110.5 229.8h0M175.5 258.4h0M149.9 234.7h0M131.4 255.0h0M148.6 213.7h0M160.4 260.1h0M148.8 230.9h0M126.4 239.5h0M115.2 187.3h0M110.5 200.1h0M163.6 242.5h0M112.1 248.8h0M174.4 262.6h0M150.9 257.6h0M140.0 220.9h0M149.1 225.6h0M188.0 240.1h0M135.9 255.0h0M160.7 251.5h0M148.4 260.1h0M146.7 260.9h0M137.3 233.4h0M126.3 256.0h0M126.5 260.9h0M159.7 251.8h0M143.4 254.8h0M137.2 239.6h0M149.1 240.0h0M137.1 251.1h0M162.0 234.7h0M108.3 211.9h0M163.2 262.8h0M115.5 231.5h0M166.0 252.9h0M112.2 183.2h0M141.6 251.6h0M146.9 260.4h0" stroke-opacity="0.18"/>
<path d="M117.3 201.6h0M176.1 247.7h0M160.0 257.0h0M128.0 240.7h0M189.1 251.2h0M144.7 245.0h0M136.3 259.5h0M147.3 251.6h0M144.5 253.7h0M161.5 242.4h0M136.8 245.1h0M153.0 261.3h0M148.5 252.0h0M128.6 245.1h0M120.4 188.2h0M146.3 241.2h0M160.3 259.2h0M122.1 249.9h0M130.4 233.7h0M131.9 236.3h0M87.7 187.8h0M179.3 259.5h0M102.4 214.2h0M138.6 257.8h0M183.0 242.5h0M140.2 227.7h0M143.4 251.0h0M164.1 254.0h0M138.8 247.7h0M115.9 211.5h0M143.9 243.0h0M114.7 250.6h0M179.0 255.0h0M133.8 241.4h0M155.1 252.8h0M159.9 225.0h0M141.0 232.9h0M161.8 248.0h0M133.4 235.4h0M124.1 249.1h0M114.1 236.5h0M119.2 207.1h0M125.0 234.4h0M118.5 252.6h0M159.6 227.1h0M121.5 221.6h0M164.1 257.9h0M141.5 259.5h0M121.3 213.5h0M133.7 229.0h0M150.8 257.4h0M119.8 211.5h0M112.0 203.8h0M172.1 249.9h0M176.4 243.9h0M128.9 202.3h0M156.1 227.9h0M166.5 247.4h0M183.1 259.1h0M148.7 260.1h0M163.3 248.3h0M145.0 227.5h0M130.5 209.9h0M160.1 243.7h0M137.3 253.7h0" stroke-opacity="0.18"/>
<path d="M147.5 236.3h0M145.7 222.8h0M139.7 225.2h0M157.1 242.3h0M151.4 233.1h0M105.9 213.3h0M148.6 253.6h0M121.2 223.7h0M170.1 250.5h0M152.9 256.9h0M104.8 226.4h0M179.9 260.1h0M162.9 254.3h0M98.1 225.9h0M143.7 258.0h0M159.7 238.2h0M184.9 236.0h0M135.3 231.5h0M149.3 249.5h0M154.2 261.8h0M130.6 224.5h0M129.9 210.2h0M137.5 225.0h0M128.7 206.8h0M139.8 235.1h0M148.8 252.0h0M132.8 217.2h0M129.6 232.3h0M174.0 237.3h0M126.6 249.7h0M131.3 259.8h0M98.7 193.6h0M149.4 243.0h0M162.4 239.4h0M119.1 206.7h0M169.8 259.2h0M133.0 200.7h0M117.8 233.7h0M138.0 246.6h0M136.8 246.3h0M127.8 210.2h0M182.6 251.8h0M139.4 229.6h0M143.4 231.4h0M135.0 235.8h0M150.7 244.0h0M136.4 230.1h0M174.7 259.9h0M144.4 258.5h0M158.6 238.6h0M114.5 235.0h0M131.1 221.9h0M120.8 243.1h0M135.4 237.3h0M138.3 231.1h0M148.2 235.7h0M131.1 232.7h0M163.5 256.2h0M139.5 258.4h0M165.8 244.1h0M126.7 243.0h0M137.9 238.2h0M120.5 210.8h0M142.2 251.2h0M157.0 252.8h0M136.0 229.3h0M124.8 185.2h0M165.8 260.1h0M162.7 245.0h0M159.1 224.5h0M138.1 238.1h0M149.5 258.7h0M143.0 262.5h0M114.0 222.1h0M146.9 246.6h0M167.2 257.0h0M132.8 241.9h0M129.1 247.1h0M118.3 246.2h0M116.5 219.6h0M117.7 229.6h0M129.7 255.5h0M158.3 241.2h0M162.3 241.8h0M143.8 217.0h0M116.9 182.4h0M154.4 237.7h0" stroke-opacity="0.18"/>
<path d="M121.4 199.8h0M130.3 212.6h0M135.4 239.6h0M140.5 237.7h0M128.2 257.1h0M144.7 225.0h0M131.1 235.3h0M127.8 243.2h0M141.1 237.7h0M132.8 236.6h0M150.5 243.6h0M147.5 242.3h0M139.5 210.9h0M148.3 240.6h0M139.1 256.4h0M106.4 190.7h0M149.3 242.0h0M185.0 245.7h0M134.7 234.9h0M181.3 248.4h0M167.8 249.8h0M91.2 185.5h0M139.0 256.0h0M180.8 257.6h0M140.0 238.5h0M162.9 256.4h0M136.9 225.4h0M189.0 258.0h0M143.3 248.6h0M128.2 232.2h0M134.5 230.1h0M155.6 261.4h0M145.5 247.0h0M189.0 258.6h0M169.7 220.8h0M126.7 194.1h0M138.6 233.3h0M152.5 261.6h0M145.3 255.9h0M134.4 239.1h0M186.9 262.2h0M154.6 226.8h0M110.3 214.4h0M141.2 203.0h0M169.1 229.8h0M160.2 258.4h0M145.1 245.5h0M136.0 229.0h0M138.3 247.5h0M130.2 219.0h0M143.1 259.7h0M150.9 231.3h0M144.9 243.1h0M100.2 205.4h0M157.9 230.3h0M146.2 260.5h0M168.9 254.4h0M150.6 235.0h0M107.3 197.0h0M167.9 247.2h0M105.3 198.6h0M119.6 198.4h0M136.9 262.2h0" stroke-opacity="0.18"/>
<path d="M139.6 260.4h0M149.6 253.5h0M126.2 197.0h0M106.2 224.1h0M132.7 250.5h0M142.7 255.6h0M117.5 198.1h0M111.2 232.8h0M152.4 261.0h0M116.8 192.5h0M160.0 259.2h0M134.8 261.6h0M79.3 193.8h0M166.7 248.6h0M170.9 262.1h0M147.8 252.2h0M149.5 231.2h0M140.0 226.5h0M130.8 219.9h0M172.8 234.2h0M166.0 244.2h0M133.6 244.5h0M163.0 246.7h0M149.4 241.3h0M110.9 222.2h0M159.6 229.4h0M123.2 240.4h0M197.9 255.8h0M128.8 254.0h0M164.0 220.7h0M124.4 236.9h0M141.0 202.4h0M159.1 257.2h0M162.7 246.3h0M135.2 252.6h0M144.1 243.8h0M127.7 241.5h0M149.6 245.2h0M152.9 260.0h0M139.0 252.6h0M102.4 216.3h0M142.8 260.9h0M143.4 238.7h0M137.7 250.5h0M173.2 251.5h0M123.4 238.7h0M151.7 234.9h0M99.9 233.4h0M158.6 232.8h0M127.7 210.6h0M144.2 233.3h0M131.7 242.5h0M169.9 251.0h0M139.3 241.8h0M105.4 182.0h0M114.3 239.2h0M183.5 241.3h0M150.1 256.1h0M144.6 209.5h0M111.6 200.7h0M140.8 256.5h0M177.0 250.1h0M161.5 249.5h0M150.0 255.9h0M142.5 245.9h0M148.6 245.8h0M131.7 244.2h0M156.1 238.6h0M124.3 215.0h0M111.1 212.3h0M155.8 247.5h0M160.6 250.4h0M107.6 227.9h0M144.2 252.9h0" stroke-opacity="0.18"/>
<path d="M124.5 197.7h0M147.5 260.8h0M190.6 249.4h0M150.0 256.0h0M101.8 217.2h0M156.0 237.7h0M130.4 261.7h0M122.9 178.8h0M125.8 192.5h0M145.7 233.9h0M139.9 245.3h0M177.1 210.0h0M127.9 213.4h0M137.9 256.4h0M148.5 252.7h0M125.2 219.6h0M130.4 247.9h0M145.9 256.6h0M158.0 250.2h0M132.7 222.6h0M113.9 210.7h0M177.8 257.9h0M131.2 221.7h0M124.8 231.0h0M155.3 229.8h0M130.7 195.8h0M135.3 260.2h0M150.4 261.7h0M132.3 254.3h0M169.4 243.1h0M146.9 255.8h0M130.2 258.5h0M136.5 244.4h0M128.1 216.0h0M124.9 232.9h0M116.0 231.3h0M176.0 230.9h0M149.3 249.1h0M186.6 258.4h0M137.1 231.6h0M132.6 258.5h0M150.1 259.3h0M119.1 262.6h0M183.1 240.2h0M141.8 256.4h0M121.4 193.8h0M137.9 216.7h0M157.0 258.3h0M128.0 252.6h0M110.6 241.1h0M144.3 254.4h0M135.6 250.0h0M153.2 251.1h0M141.0 251.8h0M92.2 190.0h0M132.1 216.0h0M133.4 222.1h0M105.9 226.0h0M158.9 262.0h0M104.9 199.0h0M178.8 242.3h0M149.5 202.9h0M96.2 192.0h0M118.5 243.3h0" stroke-opacity="0.18"/>
<path d="M143.7 261.2h0M145.7 261.6h0M159.2 250.0h0M134.8 253.4h0M143.6 234.0h0M121.9 184.1h0M103.5 224.2h0M118.8 237.6h0M136.6 262.9h0M116.5 188.1h0M184.0 254.1h0M126.3 258.6h0M150.9 259.2h0M131.2 235.8h0M134.5 238.3h0M128.1 249.6h0M147.6 233.7h0M134.7 239.7h0M145.7 227.2h0M148.6 248.3h0M139.8 235.3h0M148.3 258.9h0M176.8 232.3h0M157.0 236.4h0M157.5 207.1h0M145.6 258.9h0M115.6 193.7h0M146.9 245.2h0M126.7 209.0h0M143.7 249.7h0M149.1 218.6h0M150.2 249.7h0M169.4 238.6h0M140.1 239.6h0M157.9 261.8h0M120.0 231.1h0M177.8 257.7h0M144.0 239.4h0M147.8 246.5h0M184.6 259.7h0M161.8 250.0h0M136.9 205.3h0M147.4 220.0h0M129.6 254.2h0M134.2 245.8h0M121.2 242.9h0M138.6 239.4h0M184.4 259.9h0M108.1 233.9h0M138.8 215.8h0M125.4 241.6h0M115.0 247.7h0M156.3 214.2h0M127.2 260.9h0M125.8 260.4h0M122.8 226.1h0M129.7 224.1h0M160.2 250.5h0M119.2 252.5h0M148.5 254.4h0M206.8 256.8h0" stroke-opacity="0.18"/>
<path d="M192.5 245.2h0M144.3 251.3h0M128.5 205.7h0M127.8 257.0h0M137.4 246.9h0M81.7 186.5h0M143.7 250.5h0M160.3 252.7h0M129.1 244.4h0M132.1 234.0h0M177.0 246.9h0M146.1 236.9h0M113.6 208.7h0M125.0 199.1h0M170.0 242.5h0M159.2 250.0h0M169.6 252.6h0M99.6 196.5h0M123.0 255.6h0M178.4 250.5h0M186.4 261.7h0M144.5 233.4h0M128.5 225.2h0M101.1 182.2h0M117.6 242.6h0M132.9 235.7h0M141.3 256.1h0M135.3 224.6h0M148.7 256.4h0M134.8 214.7h0M101.4 226.8h0M158.6 218.6h0M128.9 199.0h0M154.4 248.7h0M143.6 214.0h0M124.2 260.0h0M134.1 239.7h0M150.3 225.4h0M137.5 205.5h0M161.6 254.3h0M144.9 250.1h0M118.9 219.5h0M148.3 257.6h0M118.7 180.9h0M145.4 249.9h0M111.5 179.6h0M118.1 200.0h0M141.3 232.6h0M138.1 247.3h0M165.8 238.2h0M148.8 239.7h0M139.5 188.7h0M191.5 242.3h0M162.6 255.0h0M114.2 182.9h0M164.6 231.1h0M113.2 197.2h0M121.2 198.3h0M154.2 222.5h0M150.1 204.5h0M146.2 258.4h0M136.8 239.3h0M173.2 259.2h0M133.8 237.3h0M150.0 242.1h0M172.6 259.1h0M160.0 238.5h0M185.3 255.6h0M157.9 261.6h0M146.1 260.3h0M160.5 254.6h0M166.4 237.8h0" stroke-opacity="0.18"/>
<path d="M106.1 186.9h0M104.8 222.3h0M156.6 261.5h0M158.5 255.7h0M131.7 219.3h0M146.4 243.7h0M112.4 240.0h0M155.2 238.2h0M137.8 217.6h0M151.9 232.5h0M176.4 242.2h0M142.1 212.3h0M148.0 231.4h0M187.2 260.4h0M147.7 252.2h0M117.8 249.5h0M134.8 257.3h0M172.4 253.8h0M126.7 223.8h0M131.5 244.1h0M149.3 217.9h0M129.9 262.7h0M137.4 240.6h0M153.4 246.6h0M152.7 237.7h0M142.3 226.7h0M130.2 205.6h0M136.7 252.1h0M128.7 202.5h0M160.3 252.3h0M172.9 261.2h0M144.8 215.3h0M145.8 243.5h0M157.2 253.3h0M141.8 236.6h0M102.4 214.5h0M158.1 261.4h0M170.0 250.9h0M155.8 242.8h0M169.8 259.9h0M150.3 259.2h0M162.3 232.3h0M131.6 226.0h0M150.2 243.6h0M170.4 241.4h0M84.8 202.3h0M159.8 256.2h0M119.5 194.7h0M176.3 237.2h0M142.9 210.4h0M115.7 209.2h0M139.2 259.5h0M126.0 228.2h0M133.0 261.4h0M163.8 253.7h0M144.4 236.6h0M182.7 242.3h0M95.3 188.3h0M164.9 254.8h0M159.4 254.9h0M143.0 223.2h0M182.6 224.1h0M123.3 235.3h0M156.8 261.0h0M110.0 221.9h0M181.9 257.8h0M172.1 251.5h0M134.1 219.5h0M122.3 232.9h0M168.5 261.5h0M87.7 207.6h0M174.7 240.8h0M150.2 262.4h0M148.3 233.2h0M136.9 197.8h0M140.8 240.8h0M141.6 235.3h0M157.3 258.1h0M172.2 253.2h0M103.6 235.1h0" stroke-opacity="0.18"/>
<path d="M147.6 252.7h0M128.0 235.5h0M162.9 261.6h0M138.8 220.4h0M114.4 231.7h0M110.9 186.3h0M140.1 242.9h0M137.4 250.4h0M136.3 260.0h0M152.6 238.7h0M164.8 251.1h0M146.9 243.7h0M104.6 184.4h0M164.8 210.1h0M135.8 228.8h0M126.9 259.9h0M120.7 243.3h0M128.4 259.6h0M149.2 252.8h0M157.5 257.4h0M120.6 257.5h0M139.3 202.3h0M96.9 231.0h0M133.1 205.2h0M166.1 248.6h0M131.4 248.4h0M170.2 237.2h0M148.7 259.2h0M135.8 226.9h0M192.9 257.3h0M138.5 226.1h0M138.5 253.1h0M176.2 231.6h0M119.2 255.6h0M108.2 245.6h0M154.4 256.6h0M117.9 212.6h0M146.7 259.9h0M173.0 241.9h0M123.2 248.7h0M162.6 242.1h0M146.8 241.1h0M157.4 258.4h0M129.4 232.9h0M121.9 236.8h0M158.0 258.2h0M126.2 191.1h0M121.7 237.8h0M159.8 235.8h0M156.4 259.5h0M130.9 247.8h0M125.1 210.6h0M155.2 230.8h0M129.4 243.7h0" stroke-opacity="0.18"/>
<path d="M126.3 256.7h0M102.9 206.2h0M193.6 255.1h0M132.2 231.8h0M148.4 251.4h0M135.8 248.6h0M134.4 218.7h0M118.3 238.9h0M138.5 257.5h0M140.8 261.1h0M117.4 249.4h0M169.2 242.0h0M147.2 251.1h0M161.0 237.9h0M111.5 219.0h0M154.3 244.0h0M145.1 240.7h0M143.9 259.9h0M158.2 234.6h0M139.7 252.2h0M146.8 231.5h0M109.4 208.5h0M159.4 242.4h0M156.2 249.6h0M143.3 207.9h0M138.1 253.2h0M120.5 221.2h0M169.0 259.0h0M116.1 232.8h0M131.1 260.1h0M133.4 243.4h0M181.6 237.9h0M113.9 210.9h0M138.5 221.5h0M122.2 223.4h0M107.5 192.0h0M171.3 245.5h0M127.8 259.1h0M166.6 256.0h0M124.9 242.9h0M188.7 257.2h0M121.3 225.7h0M172.0 236.6h0M156.4 247.6h0M121.0 248.3h0M159.1 199.0h0M120.1 221.5h0M142.0 254.2h0M131.8 253.9h0M137.5 235.3h0M152.0 260.7h0M164.3 252.9h0M151.7 261.2h0M118.9 188.3h0M163.2 244.0h0M145.6 226.7h0M130.7 250.3h0M115.6 226.2h0M119.7 259.2h0M145.4 257.6h0M172.1 261.2h0M126.3 187.1h0M139.1 252.8h0M125.8 213.3h0M121.5 223.5h0M148.2 236.2h0M120.8 207.4h0M152.7 224.5h0M134.7 256.8h0M161.7 239.2h0M149.9 248.4h0M114.5 214.5h0M131.3 198.4h0" stroke-opacity="0.18"/>
<path d="M146.4 255.9h0M158.4 247.6h0M116.4 210.9h0M162.9 241.5h0M176.0 258.9h0M130.5 259.1h0M131.8 238.8h0M134.8 201.5h0M133.0 258.3h0M118.2 208.9h0M146.9 246.7h0M103.2 207.0h0M146.1 261.8h0M116.5 238.9h0M112.8 220.8h0M146.0 262.5h0M167.5 254.9h0M159.3 246.5h0M130.5 213.9h0M162.7 225.9h0M98.0 222.1h0M142.3 239.9h0M162.8 209.8h0M153.1 236.5h0M102.5 214.9h0M154.2 260.6h0M84.4 180.7h0M109.9 215.3h0M162.2 232.0h0M168.0 245.9h0M172.7 232.6h0M89.9 182.8h0M141.3 209.4h0M162.6 254.1h0M97.0 222.8h0M127.3 245.3h0M152.5 229.7h0M122.5 257.0h0M156.1 235.1h0M161.9 258.6h0M138.2 244.0h0M152.8 242.4h0M131.7 254.2h0M157.6 259.5h0M158.9 223.7h0M154.4 243.5h0M158.5 256.2h0M151.8 259.5h0M115.8 238.9h0M145.2 245.7h0M140.7 244.8h0M120.6 180.2h0M133.0 260.1h0M136.1 239.1h0M151.2 251.1h0M155.1 241.3h0M153.2 251.9h0M90.0 211.0h0M147.8 238.9h0M151.3 238.9h0M151.5 244.9h0M114.9 228.2h0M170.4 258.4h0M149.1 260.4h0M129.4 244.6h0M164.7 251.1h0M158.9 261.5h0M174.3 254.0h0M153.1 249.6h0M146.1 260.2h0M143.0 236.0h0M147.2 211.8h0M142.5 253.7h0M131.2 244.4h0M160.9 258.2h0" stroke-opacity="0.18"/>
<path d="M80.0 139.2h0M85.6 136.9h0M81.3 163.8h0M122.9 156.9h0M165.2 171.0h0M163.3 196.9h0" stroke-opacity="0.26"/>
<path d="M87.1 98.8h0M86.2 167.7h0M95.8 172.5h0M177.7 198.8h0" stroke-opacity="0.26"/>
<path d="M76.0 146.9h0M77.5 163.5h0M116.9 161.5h0M129.4 169.2h0M113.1 173.8h0M129.2 169.0h0" stroke-opacity="0.26"/>
<path d="M91.5 98.8h0M82.3 145.6h0M101.5 146.2h0" stroke-opacity="0.26"/>
<path d="M94.8 130.8h0M95.8 158.1h0M85.2 172.5h0M163.3 181.9h0M175.8 181.9h0M74.8 146.8h0" stroke-opacity="0.26"/>
<path d="M85.6 152.7h0M106.9 154.6h0M122.7 157.1h0M81.3 160.0h0M178.7 151.2h0M185.4 186.3h0M78.7 189.9h0M76.0 153.4h0M79.3 138.7h0" stroke-opacity="0.26"/>
<path d="M95.8 123.1h0M97.7 166.7h0M101.5 172.5h0M138.3 176.7h0" stroke-opacity="0.26"/>
<path d="M108.8 137.9h0M94.8 161.9h0M178.7 193.1h0" stroke-opacity="0.26"/>
<path d="M90.4 161.9h0M151.2 173.8h0M154.6 189.2h0M206.5 186.3h0" stroke-opacity="0.26"/>
<path d="M92.3 136.9h0M117.9 176.9h0M194.0 169.6h0M185.4 196.9h0M77.7 163.0h0" stroke-opacity="0.26"/>
<path d="M85.6 118.7h0M170.0 196.9h0" stroke-opacity="0.26"/>
<path d="M114.0 138.8h0M76.5 152.7h0M101.2 152.7h0M110.2 163.8h0M107.3 174.4h0M90.0 174.4h0M196.5 156.9h0M139.2 183.5h0" stroke-opacity="0.26"/>
<path d="M162.9 234.9h0M206.4 233.6h0M151.9 222.4h0M182.1 187.0h0" stroke-opacity="0.19"/>
<path d="M168.9 219.5h0M184.0 239.3h0M182.5 211.2h0M173.1 193.1h0M179.5 198.5h0M203.4 218.0h0M190.6 233.9h0M189.5 240.3h0M168.8 229.1h0M165.2 231.4h0M192.5 253.6h0M192.2 220.7h0" stroke-opacity="0.19"/>
<path d="M187.7 243.2h0M176.3 187.6h0M184.3 231.6h0" stroke-opacity="0.19"/>
<path d="M183.3 236.8h0M156.5 207.5h0M197.2 234.0h0M142.3 226.8h0M166.6 208.4h0M168.4 201.4h0M183.5 217.7h0M200.2 222.5h0M165.5 259.2h0M160.8 202.7h0M168.1 238.4h0" stroke-opacity="0.19"/>
<path d="M169.1 246.4h0M173.4 235.9h0M186.3 219.2h0M192.8 194.7h0M153.0 213.2h0M175.0 244.5h0M186.1 263.3h0" stroke-opacity="0.19"/>
<path d="M184.1 209.8h0M190.2 227.4h0M180.4 227.3h0" stroke-opacity="0.19"/>
<path d="M173.0 245.5h0M166.7 229.6h0M172.8 250.0h0M175.2 224.0h0M172.5 233.5h0M153.4 214.4h0" stroke-opacity="0.19"/>
<path d="M153.1 252.6h0M188.3 191.7h0M163.5 220.8h0" stroke-opacity="0.19"/>
<path d="M185.5 238.0h0M161.7 195.7h0M175.1 195.6h0M178.2 241.4h0M180.1 208.0h0" stroke-opacity="0.19"/>
<path d="M194.9 230.4h0M171.7 240.4h0" stroke-opacity="0.19"/>
<path d="M174.0 206.7h0M178.1 207.6h0M192.2 220.6h0M177.7 240.3h0M175.8 195.2h0M204.5 218.7h0M175.0 200.2h0M165.6 265.5h0" stroke-opacity="0.19"/>
<path d="M168.9 224.7h0M148.2 212.7h0M176.1 237.1h0M186.8 240.8h0M180.6 204.9h0" stroke-opacity="0.19"/>
</g></g>
<g font-family="Liberation Sans" font-size="5" fill="#444"><text x="50.0" y="302.5" text-anchor="middle">-4</text>
<text x="103.0" y="302.5" text-anchor="middle">-2</text>
<text x="156.0" y="302.5" text-anchor="middle">0</text>
<text x="209.0" y="302.5" text-anchor="middle">2</text>
<text x="262.0" y="302.5" text-anchor="middle">4</text>
<text x="35.5" y="288.8" text-anchor="end">0</text>
<text x="35.5" y="231.8" text-anchor="end">2</text>
<text x="35.5" y="174.8" text-anchor="end">4</text>
<text x="35.5" y="117.8" text-anchor="end">6</text></g>
<text x="174.5" y="309.5" text-anchor="middle" font-family="Liberation Sans" font-size="6" font-weight="bold" fill="#333">LFC</text>
<text transform="translate(30.6,191.5) rotate(-90)" text-anchor="middle" font-family="Liberation Sans" font-size="6.3" fill="#1a1a1a">-log10 (adjp)</text>
<circle cx="200" cy="96.3" r="1.7" fill="#8a1e1c"/><circle cx="299.3" cy="97.5" r="1.7" fill="#8a1e1c"/><circle cx="212.5" cy="133" r="1.7" fill="#8a1e1c"/><circle cx="232.3" cy="145.5" r="1.7" fill="#8a1e1c"/><circle cx="252.6" cy="175.5" r="1.7" fill="#8a1e1c"/><circle cx="230.8" cy="241.4" r="1.7" fill="#8a1e1c"/><circle cx="214.4" cy="257.8" r="1.7" fill="#8a1e1c"/><circle cx="259.5" cy="99.5" r="1.5" fill="#4a8db8"/><circle cx="208.5" cy="210.8" r="1.5" fill="#4a8db8"/><circle cx="214" cy="209" r="1.5" fill="#4a8db8"/><circle cx="221.5" cy="209.6" r="1.5" fill="#4a8db8"/><circle cx="230.5" cy="209" r="1.5" fill="#4a8db8"/><circle cx="231" cy="203.4" r="1.5" fill="#4a8db8"/><circle cx="217.9" cy="235.8" r="1.5" fill="#4a8db8"/><circle cx="216.5" cy="267" r="1.5" fill="#4a8db8"/>
<g font-family="Liberation Sans" font-size="6.2" fill="#9c3c38" stroke="#9c3c38" stroke-width="0.1"><text x="205" y="96.6" text-anchor="middle">UBE2F</text><text x="291.3" y="106.2" text-anchor="middle">RNF7</text><text x="217.5" y="132.2" text-anchor="middle">UBE2L3</text><text x="227.5" y="153.5" text-anchor="middle">CUL5</text><text x="259.5" y="174.8" text-anchor="middle">ARIH2</text><text x="238" y="241.6" text-anchor="middle">CISH</text><text x="219.6" y="254.6" text-anchor="middle">DCUN1D3</text></g>
</svg>
<div class="abs leg" style="left:354px;top:140px">Cullin-5 Complex</div>
<div class="abs leg" style="left:354.3px;top:156.8px">Hits</div>
<div class="abs" style="left:340px;top:143.8px;width:5px;height:5.7px;border-radius:2.2px;background:#d0261c"></div>
<div class="abs" style="left:340px;top:160px;width:5px;height:5.7px;border-radius:2.2px;background:#6cb4ea"></div>
<div class="abs" id="cap1"><div class="j"><b>Figure 1. Results of CRISPR loss-of-</b></div><div class="j"><b>function screen in primary human T cells</b></div><div class="j"><b>in conditions that mimic chronic tumor</b></div><div class="j"><b>antigen exposure</b>. Among the hits with the</div><div class="j">highest positive fold changes, seven genes</div><div class="j">are part of the Cullin-RING ligase 5 multi-</div><div>protein complex.</div></div>
<svg width="520" height="540" style="position:absolute;left:0;top:0" font-family="Liberation Sans" fill="#111" text-rendering="geometricPrecision">
<style>.ct text{stroke:#111;stroke-width:0.22px;}</style>
<g class="ct"><path d="M70.9 407V491.5H197.4" fill="none" stroke="#1a1a1a" stroke-width="1.1"/>
<line x1="70.9" y1="491.5" x2="70.9" y2="494.8" stroke="#222" stroke-width="0.9"/>
<line x1="102.525" y1="491.5" x2="102.525" y2="494.8" stroke="#222" stroke-width="0.9"/>
<line x1="134.15" y1="491.5" x2="134.15" y2="494.8" stroke="#222" stroke-width="0.9"/>
<line x1="165.775" y1="491.5" x2="165.775" y2="494.8" stroke="#222" stroke-width="0.9"/>
<line x1="197.4" y1="491.5" x2="197.4" y2="494.8" stroke="#222" stroke-width="0.9"/>
<line x1="66.9" y1="491.5" x2="70.9" y2="491.5" stroke="#222" stroke-width="0.9"/>
<text x="65.7" y="493.9" text-anchor="end" font-size="6.8" font-weight="bold">0</text>
<line x1="66.9" y1="456.05" x2="70.9" y2="456.05" stroke="#222" stroke-width="0.9"/>
<text x="65.7" y="458.45" text-anchor="end" font-size="6.8" font-weight="bold">5</text>
<line x1="66.9" y1="420.6" x2="70.9" y2="420.6" stroke="#222" stroke-width="0.9"/>
<text x="65.7" y="423.0" text-anchor="end" font-size="6.8" font-weight="bold">10</text>
<text transform="translate(73.5,500.1) rotate(-45)" text-anchor="end" font-size="6.3" font-weight="bold">0</text>
<text transform="translate(136.75,500.1) rotate(-45)" text-anchor="end" font-size="6.3" font-weight="bold">50</text>
<text transform="translate(200.0,500.1) rotate(-45)" text-anchor="end" font-size="6.3" font-weight="bold">100</text>
<text x="133.9" y="516.5" text-anchor="middle" font-size="6.7" font-weight="bold">Time (Hours)</text>
<text transform="translate(54.300000000000004,449) rotate(-90)" text-anchor="middle" font-size="6.8" font-weight="bold">Cancer growth (normalized)</text>
<path d="M70.9 484.2 C72.8 483.8 79.5 482.5 82.5 481.8 C85.5 481.1 86.5 480.4 89.2 479.8 C91.9 479.2 95.7 478.5 98.6 478.3 C101.5 478.1 103.8 478.3 106.7 478.7 C109.6 479.1 112.3 479.8 116.1 480.5 C119.9 481.2 125.8 482.4 129.6 483.0 C133.4 483.6 135.8 484.0 139.0 484.4 C142.2 484.8 144.7 485.1 148.5 485.6 C152.3 486.1 157.4 486.7 161.9 487.2 C166.4 487.7 169.6 488.1 175.4 488.4 C181.2 488.7 193.3 489.1 196.9 489.2" fill="none" stroke="#d0383c" stroke-width="1.4"/>
<path d="M70.9 484.2 C72.8 483.8 79.5 482.5 82.5 481.8 C85.5 481.1 85.9 480.6 89.2 479.8 C92.5 479.0 98.1 477.8 102.6 477.1 C107.1 476.4 111.6 476.0 116.1 475.8 C120.6 475.6 125.8 475.8 129.6 476.0 C133.4 476.2 135.8 476.4 139.0 476.8 C142.2 477.2 144.7 477.9 148.5 478.5 C152.3 479.1 157.4 479.6 161.9 480.1 C166.4 480.6 169.6 481.0 175.4 481.5 C181.2 482.0 193.3 482.9 196.9 483.2" fill="none" stroke="#3434b4" stroke-width="1.4"/>
<path d="M70.9 484.2 C72.8 483.8 78.3 483.1 82.5 481.8 C86.7 480.5 92.6 477.8 95.9 476.4 C99.2 474.9 100.3 474.4 102.6 473.1 C104.8 471.8 107.2 470.0 109.4 468.4 C111.7 466.8 113.9 465.4 116.1 463.6 C118.3 461.8 120.5 459.5 122.8 457.6 C125.0 455.7 127.1 453.8 129.6 452.2 C132.1 450.6 134.7 449.3 137.6 447.9 C140.5 446.5 143.7 444.9 147.1 443.9 C150.5 442.9 154.3 442.1 157.9 441.8 C161.5 441.5 164.6 441.9 168.6 442.1 C172.6 442.3 177.4 442.9 182.1 443.1 C186.8 443.4 194.4 443.5 196.9 443.6" fill="none" stroke="#4a8c50" stroke-width="1.1" stroke-dasharray="2.3 1.1"/>
<path d="M275.6 407V491.5H402.1" fill="none" stroke="#1a1a1a" stroke-width="1.1"/>
<line x1="275.6" y1="491.5" x2="275.6" y2="494.8" stroke="#222" stroke-width="0.9"/>
<line x1="307.225" y1="491.5" x2="307.225" y2="494.8" stroke="#222" stroke-width="0.9"/>
<line x1="338.85" y1="491.5" x2="338.85" y2="494.8" stroke="#222" stroke-width="0.9"/>
<line x1="370.475" y1="491.5" x2="370.475" y2="494.8" stroke="#222" stroke-width="0.9"/>
<line x1="402.1" y1="491.5" x2="402.1" y2="494.8" stroke="#222" stroke-width="0.9"/>
<line x1="271.6" y1="491.5" x2="275.6" y2="491.5" stroke="#222" stroke-width="0.9"/>
<text x="270.40000000000003" y="493.9" text-anchor="end" font-size="6.8" font-weight="bold">0</text>
<line x1="271.6" y1="456.05" x2="275.6" y2="456.05" stroke="#222" stroke-width="0.9"/>
<text x="270.40000000000003" y="458.45" text-anchor="end" font-size="6.8" font-weight="bold">5</text>
<line x1="271.6" y1="420.6" x2="275.6" y2="420.6" stroke="#222" stroke-width="0.9"/>
<text x="270.40000000000003" y="423.0" text-anchor="end" font-size="6.8" font-weight="bold">10</text>
<text transform="translate(278.20000000000005,500.1) rotate(-45)" text-anchor="end" font-size="6.3" font-weight="bold">0</text>
<text transform="translate(341.45000000000005,500.1) rotate(-45)" text-anchor="end" font-size="6.3" font-weight="bold">50</text>
<text transform="translate(404.70000000000005,500.1) rotate(-45)" text-anchor="end" font-size="6.3" font-weight="bold">100</text>
<text x="338.6" y="516.5" text-anchor="middle" font-size="6.7" font-weight="bold">Time (Hours)</text>
<text transform="translate(259.0,449) rotate(-90)" text-anchor="middle" font-size="6.8" font-weight="bold">Cancer growth (normalized)</text>
<path d="M275.4 484.1 C277.4 483.8 283.2 482.8 287.5 482.4 C291.8 481.9 296.4 481.5 300.9 481.4 C305.4 481.3 309.9 481.5 314.4 481.7 C318.9 481.9 323.5 482.2 327.8 482.4 C332.1 482.6 334.6 482.6 340.0 482.8 C345.4 483.0 352.8 483.8 360.2 483.7 C367.6 483.6 377.4 482.5 384.4 482.4 C391.3 482.2 399.0 482.7 401.9 482.8" fill="none" stroke="#d0383c" stroke-width="1.4"/>
<path d="M275.4 484.1 C277.4 483.6 283.4 482.2 287.5 481.0 C291.6 479.8 296.0 478.5 300.0 477.1 C304.0 475.7 307.6 474.4 311.5 472.5 C315.4 470.6 319.2 468.2 323.1 465.6 C327.0 463.0 330.8 459.8 334.6 456.9 C338.5 454.0 342.0 451.3 346.2 448.3 C350.4 445.3 355.1 441.9 360.0 438.8 C364.9 435.7 371.9 431.4 375.9 429.6 C379.9 427.8 381.4 428.0 384.0 427.9 C386.6 427.8 388.7 428.2 391.7 429.0 C394.7 429.8 400.2 431.9 401.9 432.5" fill="none" stroke="#3434b4" stroke-width="1.4"/>
<path d="M275.4 484.1 C277.4 483.5 283.4 482.0 287.5 480.4 C291.6 478.8 296.0 476.6 300.0 474.2 C304.0 471.8 307.6 469.1 311.5 466.2 C315.4 463.3 319.2 460.2 323.1 456.9 C327.0 453.6 330.8 450.1 334.6 446.5 C338.5 442.9 342.0 438.6 346.2 435.0 C350.4 431.4 355.9 427.5 360.0 424.7 C364.1 421.9 368.0 419.6 371.0 418.0 C374.0 416.4 375.0 415.6 378.0 414.9 C381.0 414.2 384.8 414.3 388.8 414.0 C392.8 413.7 399.7 413.3 401.9 413.2" fill="none" stroke="#4a8c50" stroke-width="1.1" stroke-dasharray="2.3 1.1"/></g>
<line x1="432" y1="431.5" x2="445.4" y2="431.5" stroke="#3d5e40" stroke-width="1.3" stroke-dasharray="4 1.8"/>
<line x1="432" y1="448.2" x2="445.4" y2="448.2" stroke="#3434b4" stroke-width="1.5"/>
<line x1="432" y1="465.3" x2="445.4" y2="465.3" stroke="#c8303a" stroke-width="1.5"/>
<g font-size="9.45" fill="#111" stroke="#111" stroke-width="0.15"><text x="452.3" y="434.6">No T cells</text><text x="452.3" y="451.5">Control KO</text><text x="452.3" y="468.6">CUL5 KO</text></g>
</svg>
<div class="abs" style="left:16.3px;top:387.6px;font-size:9.4px;font-weight:bold;color:#111">a</div>
<div class="abs" style="left:215.6px;top:391.4px;font-size:9.4px;font-weight:bold;color:#111">b</div>
<div class="abs" id="cap2"><b>Figure 2. <i>CUL5</i> Knock-out CAR T cells show improved persistence after repeated tumor cell exposure in an in vitro cancer killing assay.</b><br>Quantification of cancer cell growth of BCMA positive cancer cells co-cultured with BCMA-CAR T cells exposed to tumor for <b>a.</b> the first time and <b>b.</b> after six repeated tumor stimulations. CUL5-KO BCMA-CAR T cells maintained effective tumor killing compared to control cells.</div>
</body></html>
